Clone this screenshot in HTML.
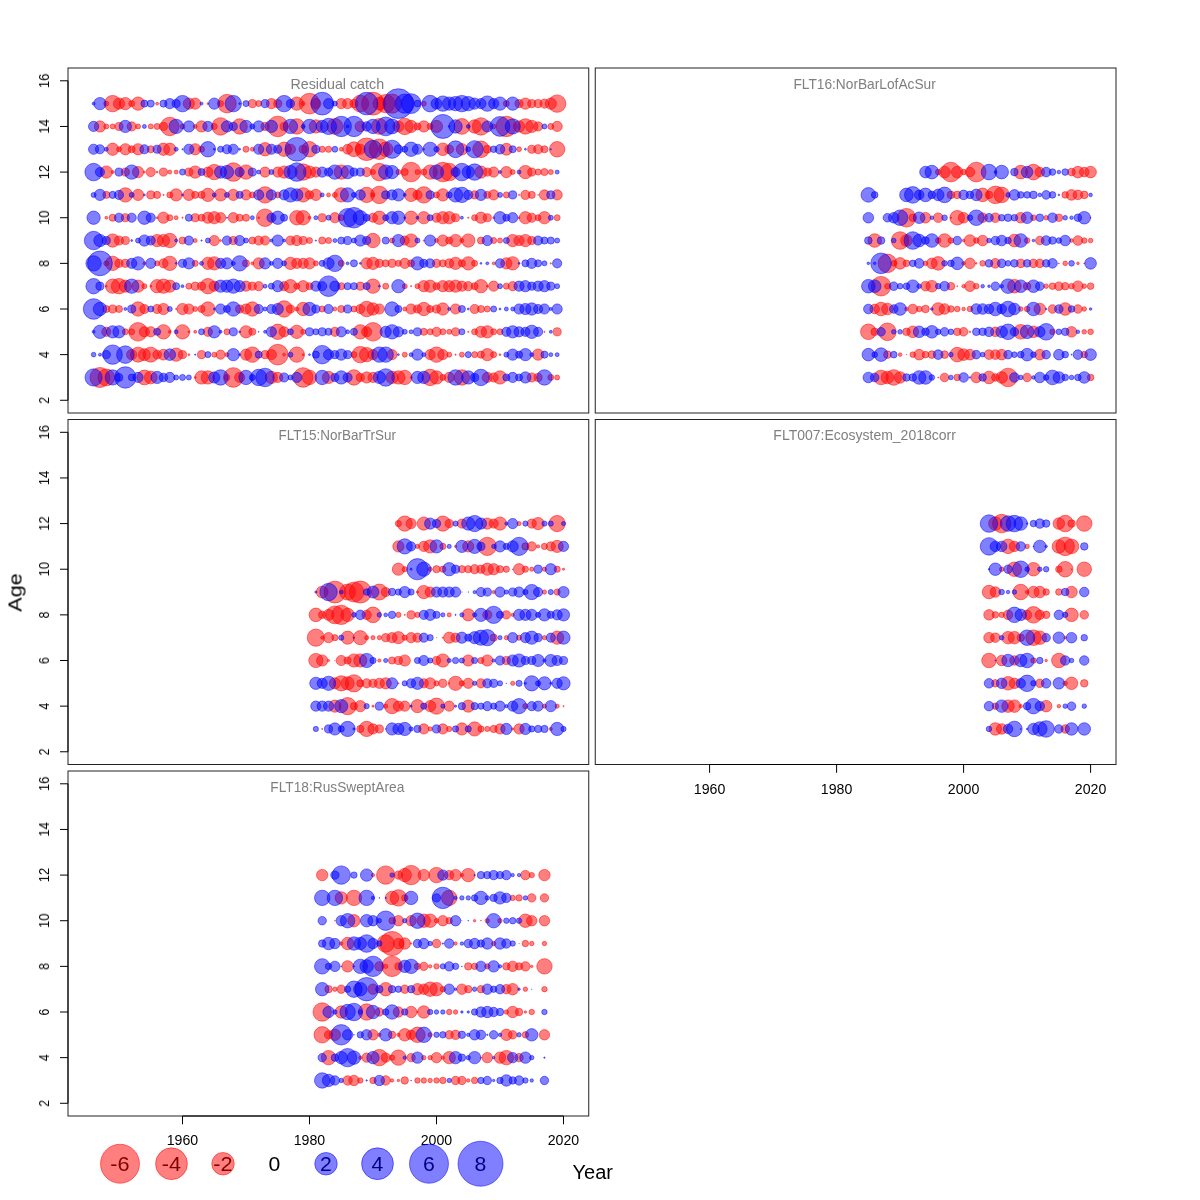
<!DOCTYPE html>
<html><head><meta charset="utf-8"><title>Residuals</title>
<style>
html,body{margin:0;padding:0;background:#fff;}
svg{display:block;}
text{font-family:"Liberation Sans",sans-serif;}
text{filter:url(#idf)}
.r{fill:rgba(255,0,0,.5);stroke:rgba(255,0,0,.5);stroke-width:1}
.b{fill:rgba(0,0,255,.5);stroke:rgba(0,0,255,.5);stroke-width:1}
.ax{stroke:#000;stroke-width:1;fill:none}
.bx{stroke:#222;stroke-width:1;fill:none}
.tl{font-size:14.6px;fill:#000}
.tt{font-size:14.1px;fill:#7f7f7f}
</style></head><body>
<svg width="1200" height="1200" viewBox="0 0 1200 1200">
<defs><filter id="idf" x="-5%" y="-50%" width="110%" height="200%"><feOffset dx="0" dy="0"/></filter></defs>
<rect width="1200" height="1200" fill="#fff"/>
<g>
<g class="r"><circle cx="106.3" cy="103.62" r="2.5"/><circle cx="112.65" cy="103.62" r="8.22"/><circle cx="119" cy="103.62" r="5.62"/><circle cx="125.35" cy="103.62" r="6.14"/><circle cx="131.7" cy="103.62" r="3.02"/><circle cx="138.05" cy="103.62" r="6.66"/><circle cx="157.1" cy="103.62" r="1.46"/><circle cx="188.85" cy="103.62" r="5.62"/><circle cx="195.2" cy="103.62" r="5.62"/><circle cx="207.9" cy="103.62" r="0.94"/><circle cx="220.6" cy="103.62" r="3.02"/><circle cx="226.95" cy="103.62" r="9.26"/><circle cx="252.35" cy="103.62" r="4.06"/><circle cx="258.7" cy="103.62" r="3.02"/><circle cx="271.4" cy="103.62" r="5.1"/><circle cx="277.75" cy="103.62" r="4.06"/><circle cx="296.8" cy="103.62" r="6.66"/><circle cx="303.15" cy="103.62" r="1.98"/><circle cx="309.5" cy="103.62" r="10.3"/><circle cx="315.85" cy="103.62" r="5.1"/><circle cx="341.25" cy="103.62" r="5.1"/><circle cx="347.6" cy="103.62" r="5.1"/><circle cx="353.95" cy="103.62" r="4.06"/><circle cx="360.3" cy="103.62" r="8.4"/><circle cx="373" cy="103.62" r="11.4"/><circle cx="379.35" cy="103.62" r="6.4"/><circle cx="385.7" cy="103.62" r="9.2"/><circle cx="392.05" cy="103.62" r="9.6"/><circle cx="423.8" cy="103.62" r="2.5"/><circle cx="506.35" cy="103.62" r="3.02"/><circle cx="519.05" cy="103.62" r="4.06"/><circle cx="525.4" cy="103.62" r="5.62"/><circle cx="531.75" cy="103.62" r="4.06"/><circle cx="538.1" cy="103.62" r="4.06"/><circle cx="544.45" cy="103.62" r="4.58"/><circle cx="550.8" cy="103.62" r="5.62"/><circle cx="557.15" cy="103.62" r="8.74"/><circle cx="99.95" cy="126.44" r="5.62"/><circle cx="106.3" cy="126.44" r="2.5"/><circle cx="112.65" cy="126.44" r="2.5"/><circle cx="119" cy="126.44" r="4.06"/><circle cx="131.7" cy="126.44" r="4.58"/><circle cx="138.05" cy="126.44" r="2.5"/><circle cx="150.75" cy="126.44" r="2.5"/><circle cx="157.1" cy="126.44" r="3.02"/><circle cx="163.45" cy="126.44" r="4.06"/><circle cx="169.8" cy="126.44" r="9.26"/><circle cx="182.5" cy="126.44" r="2.5"/><circle cx="195.2" cy="126.44" r="1.98"/><circle cx="201.55" cy="126.44" r="5.62"/><circle cx="214.25" cy="126.44" r="3.02"/><circle cx="220.6" cy="126.44" r="8.74"/><circle cx="239.65" cy="126.44" r="7.7"/><circle cx="265.05" cy="126.44" r="4.06"/><circle cx="277.75" cy="126.44" r="10.3"/><circle cx="284.1" cy="126.44" r="4.06"/><circle cx="296.8" cy="126.44" r="7.7"/><circle cx="315.85" cy="126.44" r="6.66"/><circle cx="334.9" cy="126.44" r="7.9"/><circle cx="360.3" cy="126.44" r="5.3"/><circle cx="379.35" cy="126.44" r="7.9"/><circle cx="398.4" cy="126.44" r="5.5"/><circle cx="404.75" cy="126.44" r="8.22"/><circle cx="411.1" cy="126.44" r="6.14"/><circle cx="417.45" cy="126.44" r="3.54"/><circle cx="423.8" cy="126.44" r="5.62"/><circle cx="430.15" cy="126.44" r="3.02"/><circle cx="436.5" cy="126.44" r="6.1"/><circle cx="461.9" cy="126.44" r="7.9"/><circle cx="474.6" cy="126.44" r="6.7"/><circle cx="480.95" cy="126.44" r="8.7"/><circle cx="493.65" cy="126.44" r="2.4"/><circle cx="506.35" cy="126.44" r="10.2"/><circle cx="519.05" cy="126.44" r="5.7"/><circle cx="525.4" cy="126.44" r="7.7"/><circle cx="531.75" cy="126.44" r="6.14"/><circle cx="538.1" cy="126.44" r="4.58"/><circle cx="550.8" cy="126.44" r="3.02"/><circle cx="557.15" cy="126.44" r="5.1"/><circle cx="112.65" cy="149.26" r="6.14"/><circle cx="119" cy="149.26" r="2.5"/><circle cx="125.35" cy="149.26" r="5.62"/><circle cx="131.7" cy="149.26" r="3.54"/><circle cx="138.05" cy="149.26" r="5.62"/><circle cx="150.75" cy="149.26" r="3.54"/><circle cx="163.45" cy="149.26" r="6.14"/><circle cx="169.8" cy="149.26" r="6.14"/><circle cx="195.2" cy="149.26" r="5.62"/><circle cx="201.55" cy="149.26" r="3.02"/><circle cx="246" cy="149.26" r="3.02"/><circle cx="252.35" cy="149.26" r="1.98"/><circle cx="265.05" cy="149.26" r="6.66"/><circle cx="284.1" cy="149.26" r="7.18"/><circle cx="290.45" cy="149.26" r="5.1"/><circle cx="303.15" cy="149.26" r="4.06"/><circle cx="309.5" cy="149.26" r="7.7"/><circle cx="322.2" cy="149.26" r="3.1"/><circle cx="328.55" cy="149.26" r="3.1"/><circle cx="341.25" cy="149.26" r="1.9"/><circle cx="347.6" cy="149.26" r="4.9"/><circle cx="353.95" cy="149.26" r="7.4"/><circle cx="360.3" cy="149.26" r="5.1"/><circle cx="366.65" cy="149.26" r="11.3"/><circle cx="379.35" cy="149.26" r="10.2"/><circle cx="385.7" cy="149.26" r="7.2"/><circle cx="423.8" cy="149.26" r="0.94"/><circle cx="442.85" cy="149.26" r="6.3"/><circle cx="449.2" cy="149.26" r="4.4"/><circle cx="461.9" cy="149.26" r="5.7"/><circle cx="480.95" cy="149.26" r="8.3"/><circle cx="487.3" cy="149.26" r="3.9"/><circle cx="506.35" cy="149.26" r="5.9"/><circle cx="519.05" cy="149.26" r="2.4"/><circle cx="531.75" cy="149.26" r="4.06"/><circle cx="538.1" cy="149.26" r="4.58"/><circle cx="544.45" cy="149.26" r="3.54"/><circle cx="557.15" cy="149.26" r="7.7"/><circle cx="106.3" cy="172.08" r="6.14"/><circle cx="112.65" cy="172.08" r="1.46"/><circle cx="125.35" cy="172.08" r="4.06"/><circle cx="138.05" cy="172.08" r="5.62"/><circle cx="144.4" cy="172.08" r="0.94"/><circle cx="150.75" cy="172.08" r="4.58"/><circle cx="157.1" cy="172.08" r="0.94"/><circle cx="163.45" cy="172.08" r="4.06"/><circle cx="169.8" cy="172.08" r="1.98"/><circle cx="176.15" cy="172.08" r="1.98"/><circle cx="188.85" cy="172.08" r="4.06"/><circle cx="195.2" cy="172.08" r="6.14"/><circle cx="207.9" cy="172.08" r="5.1"/><circle cx="214.25" cy="172.08" r="7.7"/><circle cx="233.3" cy="172.08" r="9.26"/><circle cx="246" cy="172.08" r="7.18"/><circle cx="265.05" cy="172.08" r="5.1"/><circle cx="277.75" cy="172.08" r="5.1"/><circle cx="284.1" cy="172.08" r="6.14"/><circle cx="303.15" cy="172.08" r="8.22"/><circle cx="309.5" cy="172.08" r="6.14"/><circle cx="315.85" cy="172.08" r="5.1"/><circle cx="341.25" cy="172.08" r="7.18"/><circle cx="366.65" cy="172.08" r="4.58"/><circle cx="373" cy="172.08" r="2.5"/><circle cx="379.35" cy="172.08" r="8.74"/><circle cx="398.4" cy="172.08" r="2.5"/><circle cx="404.75" cy="172.08" r="3.54"/><circle cx="411.1" cy="172.08" r="9.78"/><circle cx="417.45" cy="172.08" r="2.5"/><circle cx="423.8" cy="172.08" r="3.02"/><circle cx="430.15" cy="172.08" r="7.18"/><circle cx="442.85" cy="172.08" r="9.78"/><circle cx="449.2" cy="172.08" r="8.74"/><circle cx="480.95" cy="172.08" r="6.14"/><circle cx="487.3" cy="172.08" r="4.06"/><circle cx="493.65" cy="172.08" r="5.1"/><circle cx="506.35" cy="172.08" r="5.62"/><circle cx="512.7" cy="172.08" r="2.5"/><circle cx="525.4" cy="172.08" r="6.66"/><circle cx="531.75" cy="172.08" r="4.06"/><circle cx="538.1" cy="172.08" r="3.02"/><circle cx="544.45" cy="172.08" r="3.54"/><circle cx="550.8" cy="172.08" r="2.5"/><circle cx="106.3" cy="194.9" r="3.54"/><circle cx="125.35" cy="194.9" r="7.18"/><circle cx="138.05" cy="194.9" r="5.62"/><circle cx="150.75" cy="194.9" r="4.06"/><circle cx="157.1" cy="194.9" r="3.54"/><circle cx="163.45" cy="194.9" r="0.63"/><circle cx="169.8" cy="194.9" r="3.02"/><circle cx="176.15" cy="194.9" r="6.14"/><circle cx="188.85" cy="194.9" r="5.62"/><circle cx="195.2" cy="194.9" r="3.54"/><circle cx="201.55" cy="194.9" r="3.54"/><circle cx="207.9" cy="194.9" r="6.66"/><circle cx="220.6" cy="194.9" r="6.14"/><circle cx="233.3" cy="194.9" r="5.62"/><circle cx="246" cy="194.9" r="5.1"/><circle cx="252.35" cy="194.9" r="3.02"/><circle cx="265.05" cy="194.9" r="8.22"/><circle cx="277.75" cy="194.9" r="3.02"/><circle cx="303.15" cy="194.9" r="7.18"/><circle cx="309.5" cy="194.9" r="4.06"/><circle cx="315.85" cy="194.9" r="5.62"/><circle cx="328.55" cy="194.9" r="1.98"/><circle cx="334.9" cy="194.9" r="2.5"/><circle cx="341.25" cy="194.9" r="7.18"/><circle cx="366.65" cy="194.9" r="7.7"/><circle cx="373" cy="194.9" r="1.98"/><circle cx="379.35" cy="194.9" r="8.74"/><circle cx="411.1" cy="194.9" r="6.66"/><circle cx="417.45" cy="194.9" r="4.58"/><circle cx="423.8" cy="194.9" r="8.22"/><circle cx="436.5" cy="194.9" r="3.02"/><circle cx="442.85" cy="194.9" r="6.14"/><circle cx="474.6" cy="194.9" r="4.06"/><circle cx="487.3" cy="194.9" r="3.54"/><circle cx="493.65" cy="194.9" r="5.1"/><circle cx="506.35" cy="194.9" r="3.02"/><circle cx="519.05" cy="194.9" r="0.63"/><circle cx="525.4" cy="194.9" r="4.58"/><circle cx="531.75" cy="194.9" r="3.54"/><circle cx="538.1" cy="194.9" r="0.42"/><circle cx="544.45" cy="194.9" r="5.1"/><circle cx="557.15" cy="194.9" r="5.1"/><circle cx="106.3" cy="217.72" r="1.46"/><circle cx="112.65" cy="217.72" r="3.54"/><circle cx="125.35" cy="217.72" r="4.06"/><circle cx="157.1" cy="217.72" r="0.94"/><circle cx="163.45" cy="217.72" r="5.62"/><circle cx="169.8" cy="217.72" r="3.02"/><circle cx="176.15" cy="217.72" r="1.98"/><circle cx="182.5" cy="217.72" r="0.63"/><circle cx="195.2" cy="217.72" r="4.06"/><circle cx="201.55" cy="217.72" r="3.54"/><circle cx="207.9" cy="217.72" r="5.62"/><circle cx="214.25" cy="217.72" r="6.14"/><circle cx="220.6" cy="217.72" r="5.1"/><circle cx="233.3" cy="217.72" r="5.1"/><circle cx="239.65" cy="217.72" r="3.54"/><circle cx="246" cy="217.72" r="3.54"/><circle cx="258.7" cy="217.72" r="0.94"/><circle cx="265.05" cy="217.72" r="8.74"/><circle cx="296.8" cy="217.72" r="7.18"/><circle cx="303.15" cy="217.72" r="7.18"/><circle cx="309.5" cy="217.72" r="1.46"/><circle cx="322.2" cy="217.72" r="4.06"/><circle cx="334.9" cy="217.72" r="5.1"/><circle cx="341.25" cy="217.72" r="3.02"/><circle cx="373" cy="217.72" r="4.58"/><circle cx="379.35" cy="217.72" r="6.66"/><circle cx="411.1" cy="217.72" r="6.66"/><circle cx="423.8" cy="217.72" r="6.14"/><circle cx="436.5" cy="217.72" r="4.58"/><circle cx="442.85" cy="217.72" r="6.14"/><circle cx="449.2" cy="217.72" r="6.14"/><circle cx="455.55" cy="217.72" r="4.06"/><circle cx="468.25" cy="217.72" r="0.63"/><circle cx="474.6" cy="217.72" r="3.02"/><circle cx="480.95" cy="217.72" r="5.62"/><circle cx="487.3" cy="217.72" r="4.06"/><circle cx="493.65" cy="217.72" r="0.94"/><circle cx="519.05" cy="217.72" r="0.94"/><circle cx="525.4" cy="217.72" r="6.14"/><circle cx="531.75" cy="217.72" r="4.58"/><circle cx="538.1" cy="217.72" r="3.02"/><circle cx="544.45" cy="217.72" r="6.14"/><circle cx="557.15" cy="217.72" r="3.02"/><circle cx="112.65" cy="240.54" r="6.66"/><circle cx="119" cy="240.54" r="4.58"/><circle cx="125.35" cy="240.54" r="4.06"/><circle cx="157.1" cy="240.54" r="6.14"/><circle cx="163.45" cy="240.54" r="6.14"/><circle cx="169.8" cy="240.54" r="7.18"/><circle cx="182.5" cy="240.54" r="3.54"/><circle cx="195.2" cy="240.54" r="1.98"/><circle cx="214.25" cy="240.54" r="5.1"/><circle cx="220.6" cy="240.54" r="0.94"/><circle cx="233.3" cy="240.54" r="4.06"/><circle cx="252.35" cy="240.54" r="3.54"/><circle cx="258.7" cy="240.54" r="4.58"/><circle cx="265.05" cy="240.54" r="4.58"/><circle cx="290.45" cy="240.54" r="4.58"/><circle cx="296.8" cy="240.54" r="5.1"/><circle cx="303.15" cy="240.54" r="4.06"/><circle cx="309.5" cy="240.54" r="3.02"/><circle cx="322.2" cy="240.54" r="3.54"/><circle cx="328.55" cy="240.54" r="3.02"/><circle cx="373" cy="240.54" r="7.18"/><circle cx="392.05" cy="240.54" r="2.5"/><circle cx="404.75" cy="240.54" r="4.58"/><circle cx="411.1" cy="240.54" r="6.66"/><circle cx="423.8" cy="240.54" r="0.63"/><circle cx="436.5" cy="240.54" r="1.98"/><circle cx="442.85" cy="240.54" r="5.62"/><circle cx="449.2" cy="240.54" r="3.54"/><circle cx="455.55" cy="240.54" r="6.14"/><circle cx="461.9" cy="240.54" r="1.98"/><circle cx="468.25" cy="240.54" r="6.66"/><circle cx="480.95" cy="240.54" r="3.54"/><circle cx="493.65" cy="240.54" r="3.02"/><circle cx="500" cy="240.54" r="2.5"/><circle cx="512.7" cy="240.54" r="6.14"/><circle cx="519.05" cy="240.54" r="5.1"/><circle cx="525.4" cy="240.54" r="6.14"/><circle cx="531.75" cy="240.54" r="4.06"/><circle cx="106.3" cy="263.36" r="2.5"/><circle cx="112.65" cy="263.36" r="7.18"/><circle cx="119" cy="263.36" r="4.06"/><circle cx="125.35" cy="263.36" r="4.06"/><circle cx="144.4" cy="263.36" r="1.46"/><circle cx="157.1" cy="263.36" r="2.5"/><circle cx="163.45" cy="263.36" r="4.58"/><circle cx="169.8" cy="263.36" r="7.18"/><circle cx="195.2" cy="263.36" r="3.02"/><circle cx="207.9" cy="263.36" r="6.14"/><circle cx="214.25" cy="263.36" r="6.66"/><circle cx="246" cy="263.36" r="3.54"/><circle cx="252.35" cy="263.36" r="1.46"/><circle cx="258.7" cy="263.36" r="5.62"/><circle cx="290.45" cy="263.36" r="6.14"/><circle cx="296.8" cy="263.36" r="5.1"/><circle cx="303.15" cy="263.36" r="5.1"/><circle cx="309.5" cy="263.36" r="5.62"/><circle cx="315.85" cy="263.36" r="2.5"/><circle cx="341.25" cy="263.36" r="3.02"/><circle cx="366.65" cy="263.36" r="5.62"/><circle cx="373" cy="263.36" r="6.14"/><circle cx="379.35" cy="263.36" r="4.06"/><circle cx="385.7" cy="263.36" r="3.54"/><circle cx="392.05" cy="263.36" r="4.06"/><circle cx="398.4" cy="263.36" r="3.02"/><circle cx="404.75" cy="263.36" r="5.1"/><circle cx="411.1" cy="263.36" r="3.54"/><circle cx="436.5" cy="263.36" r="4.06"/><circle cx="442.85" cy="263.36" r="3.54"/><circle cx="449.2" cy="263.36" r="4.58"/><circle cx="455.55" cy="263.36" r="6.14"/><circle cx="461.9" cy="263.36" r="3.54"/><circle cx="468.25" cy="263.36" r="6.66"/><circle cx="474.6" cy="263.36" r="3.02"/><circle cx="493.65" cy="263.36" r="1.46"/><circle cx="506.35" cy="263.36" r="5.62"/><circle cx="512.7" cy="263.36" r="6.66"/><circle cx="550.8" cy="263.36" r="0.63"/><circle cx="106.3" cy="286.18" r="0.94"/><circle cx="112.65" cy="286.18" r="7.18"/><circle cx="119" cy="286.18" r="7.7"/><circle cx="125.35" cy="286.18" r="6.14"/><circle cx="138.05" cy="286.18" r="6.14"/><circle cx="144.4" cy="286.18" r="2.5"/><circle cx="150.75" cy="286.18" r="0.94"/><circle cx="157.1" cy="286.18" r="6.66"/><circle cx="163.45" cy="286.18" r="7.18"/><circle cx="169.8" cy="286.18" r="6.14"/><circle cx="188.85" cy="286.18" r="3.02"/><circle cx="195.2" cy="286.18" r="4.06"/><circle cx="201.55" cy="286.18" r="4.06"/><circle cx="207.9" cy="286.18" r="7.7"/><circle cx="214.25" cy="286.18" r="5.1"/><circle cx="246" cy="286.18" r="5.1"/><circle cx="252.35" cy="286.18" r="4.06"/><circle cx="258.7" cy="286.18" r="4.58"/><circle cx="284.1" cy="286.18" r="4.58"/><circle cx="290.45" cy="286.18" r="6.66"/><circle cx="296.8" cy="286.18" r="3.02"/><circle cx="303.15" cy="286.18" r="5.62"/><circle cx="309.5" cy="286.18" r="3.54"/><circle cx="341.25" cy="286.18" r="3.54"/><circle cx="360.3" cy="286.18" r="4.06"/><circle cx="373" cy="286.18" r="7.18"/><circle cx="385.7" cy="286.18" r="3.02"/><circle cx="404.75" cy="286.18" r="2.5"/><circle cx="411.1" cy="286.18" r="0.63"/><circle cx="417.45" cy="286.18" r="2.5"/><circle cx="423.8" cy="286.18" r="5.62"/><circle cx="430.15" cy="286.18" r="6.14"/><circle cx="436.5" cy="286.18" r="3.54"/><circle cx="442.85" cy="286.18" r="5.62"/><circle cx="449.2" cy="286.18" r="5.62"/><circle cx="455.55" cy="286.18" r="6.14"/><circle cx="461.9" cy="286.18" r="5.1"/><circle cx="468.25" cy="286.18" r="4.58"/><circle cx="474.6" cy="286.18" r="3.54"/><circle cx="480.95" cy="286.18" r="6.66"/><circle cx="487.3" cy="286.18" r="0.94"/><circle cx="493.65" cy="286.18" r="5.1"/><circle cx="506.35" cy="286.18" r="3.02"/><circle cx="512.7" cy="286.18" r="4.58"/><circle cx="106.3" cy="309" r="3.54"/><circle cx="112.65" cy="309" r="4.06"/><circle cx="119" cy="309" r="3.54"/><circle cx="138.05" cy="309" r="7.18"/><circle cx="144.4" cy="309" r="4.58"/><circle cx="157.1" cy="309" r="4.58"/><circle cx="163.45" cy="309" r="5.62"/><circle cx="176.15" cy="309" r="0.63"/><circle cx="182.5" cy="309" r="5.62"/><circle cx="188.85" cy="309" r="5.1"/><circle cx="195.2" cy="309" r="2.5"/><circle cx="201.55" cy="309" r="3.54"/><circle cx="207.9" cy="309" r="7.18"/><circle cx="239.65" cy="309" r="4.06"/><circle cx="246" cy="309" r="5.1"/><circle cx="252.35" cy="309" r="7.18"/><circle cx="284.1" cy="309" r="8.22"/><circle cx="290.45" cy="309" r="4.06"/><circle cx="296.8" cy="309" r="1.98"/><circle cx="303.15" cy="309" r="6.66"/><circle cx="322.2" cy="309" r="3.02"/><circle cx="334.9" cy="309" r="1.98"/><circle cx="341.25" cy="309" r="3.54"/><circle cx="353.95" cy="309" r="3.02"/><circle cx="360.3" cy="309" r="4.58"/><circle cx="366.65" cy="309" r="7.7"/><circle cx="373" cy="309" r="6.14"/><circle cx="379.35" cy="309" r="5.1"/><circle cx="404.75" cy="309" r="1.98"/><circle cx="411.1" cy="309" r="5.1"/><circle cx="417.45" cy="309" r="4.06"/><circle cx="423.8" cy="309" r="6.66"/><circle cx="430.15" cy="309" r="3.54"/><circle cx="436.5" cy="309" r="4.06"/><circle cx="442.85" cy="309" r="6.14"/><circle cx="455.55" cy="309" r="5.1"/><circle cx="474.6" cy="309" r="4.58"/><circle cx="480.95" cy="309" r="3.54"/><circle cx="487.3" cy="309" r="3.02"/><circle cx="106.3" cy="331.82" r="4.58"/><circle cx="125.35" cy="331.82" r="3.02"/><circle cx="131.7" cy="331.82" r="3.02"/><circle cx="138.05" cy="331.82" r="9.26"/><circle cx="144.4" cy="331.82" r="5.1"/><circle cx="150.75" cy="331.82" r="5.1"/><circle cx="163.45" cy="331.82" r="7.18"/><circle cx="169.8" cy="331.82" r="1.46"/><circle cx="182.5" cy="331.82" r="7.18"/><circle cx="188.85" cy="331.82" r="0.94"/><circle cx="195.2" cy="331.82" r="1.46"/><circle cx="207.9" cy="331.82" r="4.58"/><circle cx="226.95" cy="331.82" r="3.02"/><circle cx="246" cy="331.82" r="6.14"/><circle cx="252.35" cy="331.82" r="3.54"/><circle cx="277.75" cy="331.82" r="7.7"/><circle cx="284.1" cy="331.82" r="5.1"/><circle cx="296.8" cy="331.82" r="6.66"/><circle cx="303.15" cy="331.82" r="2.5"/><circle cx="334.9" cy="331.82" r="4.58"/><circle cx="360.3" cy="331.82" r="7.18"/><circle cx="366.65" cy="331.82" r="5.1"/><circle cx="373" cy="331.82" r="9.26"/><circle cx="423.8" cy="331.82" r="3.54"/><circle cx="430.15" cy="331.82" r="3.02"/><circle cx="436.5" cy="331.82" r="4.58"/><circle cx="442.85" cy="331.82" r="3.02"/><circle cx="449.2" cy="331.82" r="2.5"/><circle cx="455.55" cy="331.82" r="4.06"/><circle cx="468.25" cy="331.82" r="0.63"/><circle cx="474.6" cy="331.82" r="3.02"/><circle cx="480.95" cy="331.82" r="5.62"/><circle cx="487.3" cy="331.82" r="6.14"/><circle cx="493.65" cy="331.82" r="3.02"/><circle cx="500" cy="331.82" r="3.02"/><circle cx="544.45" cy="331.82" r="0.63"/><circle cx="557.15" cy="331.82" r="4.06"/><circle cx="131.7" cy="354.64" r="5.2"/><circle cx="138.05" cy="354.64" r="7.5"/><circle cx="144.4" cy="354.64" r="6"/><circle cx="150.75" cy="354.64" r="7.5"/><circle cx="157.1" cy="354.64" r="4.4"/><circle cx="163.45" cy="354.64" r="5.4"/><circle cx="176.15" cy="354.64" r="6.66"/><circle cx="182.5" cy="354.64" r="4.06"/><circle cx="188.85" cy="354.64" r="0.94"/><circle cx="201.55" cy="354.64" r="4.06"/><circle cx="214.25" cy="354.64" r="2.5"/><circle cx="220.6" cy="354.64" r="4.58"/><circle cx="226.95" cy="354.64" r="1.98"/><circle cx="246" cy="354.64" r="5.62"/><circle cx="252.35" cy="354.64" r="7.7"/><circle cx="265.05" cy="354.64" r="4.06"/><circle cx="271.4" cy="354.64" r="5.1"/><circle cx="277.75" cy="354.64" r="10.3"/><circle cx="284.1" cy="354.64" r="1.46"/><circle cx="296.8" cy="354.64" r="7.7"/><circle cx="303.15" cy="354.64" r="0.94"/><circle cx="353.95" cy="354.64" r="3.02"/><circle cx="360.3" cy="354.64" r="8.22"/><circle cx="366.65" cy="354.64" r="7.18"/><circle cx="373" cy="354.64" r="5.1"/><circle cx="392.05" cy="354.64" r="5.1"/><circle cx="404.75" cy="354.64" r="2.5"/><circle cx="430.15" cy="354.64" r="5.1"/><circle cx="436.5" cy="354.64" r="7.7"/><circle cx="442.85" cy="354.64" r="5.1"/><circle cx="449.2" cy="354.64" r="2.5"/><circle cx="455.55" cy="354.64" r="0.63"/><circle cx="461.9" cy="354.64" r="2.5"/><circle cx="474.6" cy="354.64" r="3.02"/><circle cx="480.95" cy="354.64" r="3.54"/><circle cx="487.3" cy="354.64" r="6.14"/><circle cx="493.65" cy="354.64" r="3.02"/><circle cx="500" cy="354.64" r="0.94"/><circle cx="538.1" cy="354.64" r="5.62"/><circle cx="99.95" cy="377.46" r="10"/><circle cx="106.3" cy="377.46" r="8.4"/><circle cx="144.4" cy="377.46" r="7.4"/><circle cx="150.75" cy="377.46" r="6.4"/><circle cx="195.2" cy="377.46" r="0.94"/><circle cx="201.55" cy="377.46" r="6.66"/><circle cx="207.9" cy="377.46" r="6.66"/><circle cx="226.95" cy="377.46" r="3.02"/><circle cx="233.3" cy="377.46" r="9.78"/><circle cx="239.65" cy="377.46" r="5.1"/><circle cx="271.4" cy="377.46" r="6.14"/><circle cx="277.75" cy="377.46" r="5.1"/><circle cx="303.15" cy="377.46" r="9.78"/><circle cx="309.5" cy="377.46" r="7.18"/><circle cx="328.55" cy="377.46" r="6.14"/><circle cx="353.95" cy="377.46" r="7.7"/><circle cx="360.3" cy="377.46" r="4.06"/><circle cx="366.65" cy="377.46" r="5.62"/><circle cx="373" cy="377.46" r="5.1"/><circle cx="392.05" cy="377.46" r="6.14"/><circle cx="398.4" cy="377.46" r="6.66"/><circle cx="404.75" cy="377.46" r="7.18"/><circle cx="411.1" cy="377.46" r="0.94"/><circle cx="430.15" cy="377.46" r="8.22"/><circle cx="436.5" cy="377.46" r="6.66"/><circle cx="442.85" cy="377.46" r="3.02"/><circle cx="449.2" cy="377.46" r="5.1"/><circle cx="461.9" cy="377.46" r="7.7"/><circle cx="487.3" cy="377.46" r="5.1"/><circle cx="493.65" cy="377.46" r="4.58"/><circle cx="500" cy="377.46" r="6.66"/><circle cx="531.75" cy="377.46" r="4.58"/><circle cx="538.1" cy="377.46" r="4.06"/><circle cx="550.8" cy="377.46" r="3.02"/><circle cx="557.15" cy="377.46" r="2.5"/></g>
<g class="b"><circle cx="93.6" cy="103.62" r="1.46"/><circle cx="99.95" cy="103.62" r="6.14"/><circle cx="144.4" cy="103.62" r="3.54"/><circle cx="150.75" cy="103.62" r="3.54"/><circle cx="163.45" cy="103.62" r="3.54"/><circle cx="169.8" cy="103.62" r="5.1"/><circle cx="176.15" cy="103.62" r="4.06"/><circle cx="182.5" cy="103.62" r="8.22"/><circle cx="201.55" cy="103.62" r="1.46"/><circle cx="214.25" cy="103.62" r="5.62"/><circle cx="233.3" cy="103.62" r="8.22"/><circle cx="239.65" cy="103.62" r="0.94"/><circle cx="246" cy="103.62" r="3.02"/><circle cx="265.05" cy="103.62" r="4.06"/><circle cx="284.1" cy="103.62" r="8.22"/><circle cx="290.45" cy="103.62" r="4.06"/><circle cx="322.2" cy="103.62" r="11.34"/><circle cx="328.55" cy="103.62" r="5.1"/><circle cx="334.9" cy="103.62" r="2.5"/><circle cx="366.65" cy="103.62" r="11.3"/><circle cx="398.4" cy="103.62" r="14.9"/><circle cx="404.75" cy="103.62" r="9.6"/><circle cx="411.1" cy="103.62" r="9.9"/><circle cx="417.45" cy="103.62" r="3.4"/><circle cx="430.15" cy="103.62" r="8.3"/><circle cx="436.5" cy="103.62" r="5.4"/><circle cx="442.85" cy="103.62" r="7.7"/><circle cx="449.2" cy="103.62" r="6.66"/><circle cx="455.55" cy="103.62" r="7.18"/><circle cx="461.9" cy="103.62" r="8.22"/><circle cx="468.25" cy="103.62" r="7.18"/><circle cx="474.6" cy="103.62" r="5.62"/><circle cx="480.95" cy="103.62" r="5.1"/><circle cx="487.3" cy="103.62" r="7.7"/><circle cx="493.65" cy="103.62" r="5.1"/><circle cx="500" cy="103.62" r="6.66"/><circle cx="512.7" cy="103.62" r="6.66"/><circle cx="93.6" cy="126.44" r="5.1"/><circle cx="125.35" cy="126.44" r="6.14"/><circle cx="144.4" cy="126.44" r="1.98"/><circle cx="176.15" cy="126.44" r="7.18"/><circle cx="188.85" cy="126.44" r="5.62"/><circle cx="207.9" cy="126.44" r="5.1"/><circle cx="226.95" cy="126.44" r="5.62"/><circle cx="233.3" cy="126.44" r="4.06"/><circle cx="246" cy="126.44" r="6.14"/><circle cx="252.35" cy="126.44" r="2.5"/><circle cx="258.7" cy="126.44" r="5.62"/><circle cx="271.4" cy="126.44" r="6.14"/><circle cx="290.45" cy="126.44" r="7.18"/><circle cx="303.15" cy="126.44" r="1.98"/><circle cx="309.5" cy="126.44" r="7.18"/><circle cx="322.2" cy="126.44" r="6.14"/><circle cx="328.55" cy="126.44" r="8.1"/><circle cx="341.25" cy="126.44" r="10.2"/><circle cx="347.6" cy="126.44" r="1.4"/><circle cx="353.95" cy="126.44" r="10.2"/><circle cx="366.65" cy="126.44" r="4.7"/><circle cx="373" cy="126.44" r="7.2"/><circle cx="385.7" cy="126.44" r="9.4"/><circle cx="392.05" cy="126.44" r="7.4"/><circle cx="442.85" cy="126.44" r="12"/><circle cx="449.2" cy="126.44" r="0.9"/><circle cx="455.55" cy="126.44" r="6.7"/><circle cx="468.25" cy="126.44" r="1.9"/><circle cx="487.3" cy="126.44" r="5.5"/><circle cx="500" cy="126.44" r="9.9"/><circle cx="512.7" cy="126.44" r="7.6"/><circle cx="544.45" cy="126.44" r="2.5"/><circle cx="93.6" cy="149.26" r="5.1"/><circle cx="99.95" cy="149.26" r="4.58"/><circle cx="106.3" cy="149.26" r="1.98"/><circle cx="144.4" cy="149.26" r="4.58"/><circle cx="157.1" cy="149.26" r="4.06"/><circle cx="176.15" cy="149.26" r="1.98"/><circle cx="182.5" cy="149.26" r="0.63"/><circle cx="188.85" cy="149.26" r="5.1"/><circle cx="207.9" cy="149.26" r="7.7"/><circle cx="214.25" cy="149.26" r="0.94"/><circle cx="220.6" cy="149.26" r="3.02"/><circle cx="226.95" cy="149.26" r="4.58"/><circle cx="233.3" cy="149.26" r="5.1"/><circle cx="239.65" cy="149.26" r="0.94"/><circle cx="258.7" cy="149.26" r="5.1"/><circle cx="271.4" cy="149.26" r="5.1"/><circle cx="277.75" cy="149.26" r="4.06"/><circle cx="296.8" cy="149.26" r="11.86"/><circle cx="315.85" cy="149.26" r="4.06"/><circle cx="334.9" cy="149.26" r="2.9"/><circle cx="373" cy="149.26" r="8.9"/><circle cx="392.05" cy="149.26" r="9.1"/><circle cx="398.4" cy="149.26" r="4.4"/><circle cx="404.75" cy="149.26" r="3.02"/><circle cx="411.1" cy="149.26" r="7.18"/><circle cx="417.45" cy="149.26" r="5.1"/><circle cx="430.15" cy="149.26" r="7.1"/><circle cx="436.5" cy="149.26" r="2.7"/><circle cx="455.55" cy="149.26" r="8.4"/><circle cx="468.25" cy="149.26" r="2.4"/><circle cx="474.6" cy="149.26" r="8.6"/><circle cx="493.65" cy="149.26" r="3.3"/><circle cx="500" cy="149.26" r="4.8"/><circle cx="512.7" cy="149.26" r="3.5"/><circle cx="525.4" cy="149.26" r="0.94"/><circle cx="550.8" cy="149.26" r="0.63"/><circle cx="93.6" cy="172.08" r="8.74"/><circle cx="99.95" cy="172.08" r="4.58"/><circle cx="119" cy="172.08" r="4.06"/><circle cx="131.7" cy="172.08" r="7.18"/><circle cx="182.5" cy="172.08" r="3.02"/><circle cx="201.55" cy="172.08" r="3.54"/><circle cx="220.6" cy="172.08" r="6.14"/><circle cx="226.95" cy="172.08" r="6.66"/><circle cx="239.65" cy="172.08" r="4.58"/><circle cx="252.35" cy="172.08" r="4.06"/><circle cx="258.7" cy="172.08" r="1.98"/><circle cx="271.4" cy="172.08" r="2.5"/><circle cx="290.45" cy="172.08" r="6.66"/><circle cx="296.8" cy="172.08" r="9.26"/><circle cx="322.2" cy="172.08" r="5.1"/><circle cx="328.55" cy="172.08" r="4.06"/><circle cx="334.9" cy="172.08" r="7.18"/><circle cx="347.6" cy="172.08" r="6.66"/><circle cx="353.95" cy="172.08" r="4.06"/><circle cx="360.3" cy="172.08" r="4.06"/><circle cx="385.7" cy="172.08" r="7.18"/><circle cx="392.05" cy="172.08" r="6.66"/><circle cx="436.5" cy="172.08" r="7.18"/><circle cx="455.55" cy="172.08" r="4.58"/><circle cx="461.9" cy="172.08" r="8.74"/><circle cx="468.25" cy="172.08" r="6.14"/><circle cx="474.6" cy="172.08" r="8.22"/><circle cx="500" cy="172.08" r="1.46"/><circle cx="519.05" cy="172.08" r="1.98"/><circle cx="557.15" cy="172.08" r="1.98"/><circle cx="93.6" cy="194.9" r="2.5"/><circle cx="99.95" cy="194.9" r="5.62"/><circle cx="112.65" cy="194.9" r="3.54"/><circle cx="119" cy="194.9" r="4.58"/><circle cx="131.7" cy="194.9" r="2.5"/><circle cx="144.4" cy="194.9" r="0.94"/><circle cx="182.5" cy="194.9" r="0.94"/><circle cx="214.25" cy="194.9" r="1.98"/><circle cx="226.95" cy="194.9" r="2.5"/><circle cx="239.65" cy="194.9" r="3.54"/><circle cx="258.7" cy="194.9" r="5.1"/><circle cx="271.4" cy="194.9" r="5.1"/><circle cx="284.1" cy="194.9" r="5.1"/><circle cx="290.45" cy="194.9" r="7.18"/><circle cx="296.8" cy="194.9" r="6.14"/><circle cx="322.2" cy="194.9" r="1.98"/><circle cx="347.6" cy="194.9" r="7.18"/><circle cx="353.95" cy="194.9" r="2.5"/><circle cx="360.3" cy="194.9" r="5.1"/><circle cx="385.7" cy="194.9" r="4.06"/><circle cx="392.05" cy="194.9" r="5.1"/><circle cx="398.4" cy="194.9" r="6.14"/><circle cx="404.75" cy="194.9" r="1.46"/><circle cx="430.15" cy="194.9" r="4.06"/><circle cx="449.2" cy="194.9" r="3.02"/><circle cx="455.55" cy="194.9" r="7.18"/><circle cx="461.9" cy="194.9" r="7.7"/><circle cx="468.25" cy="194.9" r="4.58"/><circle cx="480.95" cy="194.9" r="5.62"/><circle cx="500" cy="194.9" r="2.5"/><circle cx="512.7" cy="194.9" r="4.06"/><circle cx="550.8" cy="194.9" r="4.06"/><circle cx="93.6" cy="217.72" r="6.66"/><circle cx="119" cy="217.72" r="4.58"/><circle cx="131.7" cy="217.72" r="4.58"/><circle cx="144.4" cy="217.72" r="6.66"/><circle cx="150.75" cy="217.72" r="4.58"/><circle cx="188.85" cy="217.72" r="3.54"/><circle cx="226.95" cy="217.72" r="0.63"/><circle cx="252.35" cy="217.72" r="1.98"/><circle cx="271.4" cy="217.72" r="4.58"/><circle cx="277.75" cy="217.72" r="6.66"/><circle cx="284.1" cy="217.72" r="3.54"/><circle cx="315.85" cy="217.72" r="1.98"/><circle cx="328.55" cy="217.72" r="2.5"/><circle cx="347.6" cy="217.72" r="9.26"/><circle cx="353.95" cy="217.72" r="10.3"/><circle cx="360.3" cy="217.72" r="7.18"/><circle cx="366.65" cy="217.72" r="3.54"/><circle cx="385.7" cy="217.72" r="3.02"/><circle cx="392.05" cy="217.72" r="6.14"/><circle cx="398.4" cy="217.72" r="6.66"/><circle cx="404.75" cy="217.72" r="0.94"/><circle cx="417.45" cy="217.72" r="1.46"/><circle cx="430.15" cy="217.72" r="3.02"/><circle cx="461.9" cy="217.72" r="1.46"/><circle cx="500" cy="217.72" r="6.14"/><circle cx="506.35" cy="217.72" r="3.54"/><circle cx="512.7" cy="217.72" r="5.1"/><circle cx="550.8" cy="217.72" r="2.5"/><circle cx="93.6" cy="240.54" r="9.26"/><circle cx="99.95" cy="240.54" r="6.14"/><circle cx="106.3" cy="240.54" r="4.06"/><circle cx="131.7" cy="240.54" r="0.94"/><circle cx="138.05" cy="240.54" r="2.5"/><circle cx="144.4" cy="240.54" r="5.62"/><circle cx="150.75" cy="240.54" r="4.58"/><circle cx="176.15" cy="240.54" r="1.46"/><circle cx="188.85" cy="240.54" r="4.58"/><circle cx="201.55" cy="240.54" r="0.63"/><circle cx="207.9" cy="240.54" r="2.5"/><circle cx="226.95" cy="240.54" r="4.58"/><circle cx="239.65" cy="240.54" r="5.1"/><circle cx="246" cy="240.54" r="2.5"/><circle cx="271.4" cy="240.54" r="1.46"/><circle cx="277.75" cy="240.54" r="5.62"/><circle cx="284.1" cy="240.54" r="1.46"/><circle cx="315.85" cy="240.54" r="0.63"/><circle cx="334.9" cy="240.54" r="1.98"/><circle cx="341.25" cy="240.54" r="3.54"/><circle cx="347.6" cy="240.54" r="4.06"/><circle cx="353.95" cy="240.54" r="2.5"/><circle cx="360.3" cy="240.54" r="5.62"/><circle cx="366.65" cy="240.54" r="4.06"/><circle cx="385.7" cy="240.54" r="3.54"/><circle cx="398.4" cy="240.54" r="6.14"/><circle cx="417.45" cy="240.54" r="2.5"/><circle cx="430.15" cy="240.54" r="5.62"/><circle cx="487.3" cy="240.54" r="5.1"/><circle cx="506.35" cy="240.54" r="3.02"/><circle cx="538.1" cy="240.54" r="4.58"/><circle cx="544.45" cy="240.54" r="3.54"/><circle cx="550.8" cy="240.54" r="3.54"/><circle cx="557.15" cy="240.54" r="2.5"/><circle cx="93.6" cy="263.36" r="7.7"/><circle cx="99.95" cy="263.36" r="12.38"/><circle cx="131.7" cy="263.36" r="5.1"/><circle cx="138.05" cy="263.36" r="6.66"/><circle cx="150.75" cy="263.36" r="5.1"/><circle cx="176.15" cy="263.36" r="0.94"/><circle cx="182.5" cy="263.36" r="4.06"/><circle cx="188.85" cy="263.36" r="5.62"/><circle cx="201.55" cy="263.36" r="1.98"/><circle cx="220.6" cy="263.36" r="5.1"/><circle cx="226.95" cy="263.36" r="5.62"/><circle cx="233.3" cy="263.36" r="1.98"/><circle cx="239.65" cy="263.36" r="7.7"/><circle cx="265.05" cy="263.36" r="5.62"/><circle cx="271.4" cy="263.36" r="1.98"/><circle cx="277.75" cy="263.36" r="5.1"/><circle cx="284.1" cy="263.36" r="2.5"/><circle cx="322.2" cy="263.36" r="3.02"/><circle cx="328.55" cy="263.36" r="5.62"/><circle cx="334.9" cy="263.36" r="8.22"/><circle cx="347.6" cy="263.36" r="1.46"/><circle cx="353.95" cy="263.36" r="3.54"/><circle cx="360.3" cy="263.36" r="0.94"/><circle cx="417.45" cy="263.36" r="6.66"/><circle cx="423.8" cy="263.36" r="4.06"/><circle cx="430.15" cy="263.36" r="4.58"/><circle cx="480.95" cy="263.36" r="0.94"/><circle cx="487.3" cy="263.36" r="1.46"/><circle cx="500" cy="263.36" r="4.58"/><circle cx="519.05" cy="263.36" r="0.94"/><circle cx="525.4" cy="263.36" r="3.54"/><circle cx="531.75" cy="263.36" r="5.1"/><circle cx="538.1" cy="263.36" r="3.54"/><circle cx="544.45" cy="263.36" r="2.5"/><circle cx="557.15" cy="263.36" r="4.58"/><circle cx="93.6" cy="286.18" r="7.7"/><circle cx="99.95" cy="286.18" r="4.06"/><circle cx="131.7" cy="286.18" r="7.18"/><circle cx="176.15" cy="286.18" r="3.54"/><circle cx="182.5" cy="286.18" r="1.46"/><circle cx="220.6" cy="286.18" r="6.14"/><circle cx="226.95" cy="286.18" r="6.14"/><circle cx="233.3" cy="286.18" r="7.18"/><circle cx="239.65" cy="286.18" r="5.62"/><circle cx="265.05" cy="286.18" r="1.98"/><circle cx="271.4" cy="286.18" r="3.02"/><circle cx="277.75" cy="286.18" r="5.62"/><circle cx="315.85" cy="286.18" r="5.1"/><circle cx="322.2" cy="286.18" r="4.58"/><circle cx="328.55" cy="286.18" r="10.3"/><circle cx="334.9" cy="286.18" r="5.1"/><circle cx="347.6" cy="286.18" r="3.54"/><circle cx="353.95" cy="286.18" r="3.54"/><circle cx="366.65" cy="286.18" r="3.54"/><circle cx="379.35" cy="286.18" r="0.94"/><circle cx="398.4" cy="286.18" r="6.66"/><circle cx="500" cy="286.18" r="2.5"/><circle cx="519.05" cy="286.18" r="5.1"/><circle cx="525.4" cy="286.18" r="5.62"/><circle cx="531.75" cy="286.18" r="4.06"/><circle cx="538.1" cy="286.18" r="5.1"/><circle cx="544.45" cy="286.18" r="5.62"/><circle cx="550.8" cy="286.18" r="4.06"/><circle cx="557.15" cy="286.18" r="2.5"/><circle cx="93.6" cy="309" r="10.3"/><circle cx="99.95" cy="309" r="6.66"/><circle cx="125.35" cy="309" r="1.46"/><circle cx="131.7" cy="309" r="4.06"/><circle cx="150.75" cy="309" r="3.02"/><circle cx="169.8" cy="309" r="2.5"/><circle cx="214.25" cy="309" r="0.94"/><circle cx="220.6" cy="309" r="5.1"/><circle cx="226.95" cy="309" r="3.54"/><circle cx="233.3" cy="309" r="7.18"/><circle cx="258.7" cy="309" r="4.58"/><circle cx="265.05" cy="309" r="1.98"/><circle cx="271.4" cy="309" r="4.58"/><circle cx="277.75" cy="309" r="5.62"/><circle cx="309.5" cy="309" r="6.66"/><circle cx="315.85" cy="309" r="4.06"/><circle cx="328.55" cy="309" r="4.58"/><circle cx="347.6" cy="309" r="4.06"/><circle cx="392.05" cy="309" r="7.18"/><circle cx="398.4" cy="309" r="3.54"/><circle cx="449.2" cy="309" r="1.46"/><circle cx="461.9" cy="309" r="3.54"/><circle cx="468.25" cy="309" r="0.94"/><circle cx="493.65" cy="309" r="3.02"/><circle cx="500" cy="309" r="0.94"/><circle cx="506.35" cy="309" r="1.98"/><circle cx="512.7" cy="309" r="1.98"/><circle cx="519.05" cy="309" r="5.1"/><circle cx="525.4" cy="309" r="5.62"/><circle cx="531.75" cy="309" r="6.14"/><circle cx="538.1" cy="309" r="4.58"/><circle cx="544.45" cy="309" r="5.1"/><circle cx="550.8" cy="309" r="1.46"/><circle cx="557.15" cy="309" r="5.1"/><circle cx="93.6" cy="331.82" r="1.46"/><circle cx="99.95" cy="331.82" r="6.66"/><circle cx="112.65" cy="331.82" r="6.14"/><circle cx="119" cy="331.82" r="6.14"/><circle cx="157.1" cy="331.82" r="3.54"/><circle cx="176.15" cy="331.82" r="1.98"/><circle cx="201.55" cy="331.82" r="3.02"/><circle cx="214.25" cy="331.82" r="6.14"/><circle cx="220.6" cy="331.82" r="1.46"/><circle cx="233.3" cy="331.82" r="4.06"/><circle cx="239.65" cy="331.82" r="0.94"/><circle cx="258.7" cy="331.82" r="0.42"/><circle cx="265.05" cy="331.82" r="1.46"/><circle cx="271.4" cy="331.82" r="5.1"/><circle cx="290.45" cy="331.82" r="3.02"/><circle cx="309.5" cy="331.82" r="4.06"/><circle cx="315.85" cy="331.82" r="3.02"/><circle cx="322.2" cy="331.82" r="4.06"/><circle cx="328.55" cy="331.82" r="3.54"/><circle cx="341.25" cy="331.82" r="5.1"/><circle cx="347.6" cy="331.82" r="1.98"/><circle cx="353.95" cy="331.82" r="3.54"/><circle cx="385.7" cy="331.82" r="5.62"/><circle cx="392.05" cy="331.82" r="7.18"/><circle cx="398.4" cy="331.82" r="5.1"/><circle cx="404.75" cy="331.82" r="2.5"/><circle cx="411.1" cy="331.82" r="1.98"/><circle cx="417.45" cy="331.82" r="4.06"/><circle cx="461.9" cy="331.82" r="3.02"/><circle cx="506.35" cy="331.82" r="4.58"/><circle cx="512.7" cy="331.82" r="6.14"/><circle cx="519.05" cy="331.82" r="5.1"/><circle cx="525.4" cy="331.82" r="4.58"/><circle cx="531.75" cy="331.82" r="6.66"/><circle cx="538.1" cy="331.82" r="4.58"/><circle cx="550.8" cy="331.82" r="1.46"/><circle cx="93.6" cy="354.64" r="2.3"/><circle cx="99.95" cy="354.64" r="1.5"/><circle cx="106.3" cy="354.64" r="4.2"/><circle cx="112.65" cy="354.64" r="9.7"/><circle cx="125.35" cy="354.64" r="8.8"/><circle cx="169.8" cy="354.64" r="5.8"/><circle cx="195.2" cy="354.64" r="0.63"/><circle cx="207.9" cy="354.64" r="3.02"/><circle cx="233.3" cy="354.64" r="6.14"/><circle cx="239.65" cy="354.64" r="0.94"/><circle cx="258.7" cy="354.64" r="3.54"/><circle cx="290.45" cy="354.64" r="2.5"/><circle cx="309.5" cy="354.64" r="0.94"/><circle cx="315.85" cy="354.64" r="3.54"/><circle cx="322.2" cy="354.64" r="9.26"/><circle cx="328.55" cy="354.64" r="5.1"/><circle cx="334.9" cy="354.64" r="4.06"/><circle cx="341.25" cy="354.64" r="5.62"/><circle cx="347.6" cy="354.64" r="4.06"/><circle cx="379.35" cy="354.64" r="7.7"/><circle cx="385.7" cy="354.64" r="7.7"/><circle cx="398.4" cy="354.64" r="0.94"/><circle cx="411.1" cy="354.64" r="1.98"/><circle cx="417.45" cy="354.64" r="5.62"/><circle cx="423.8" cy="354.64" r="1.98"/><circle cx="468.25" cy="354.64" r="3.02"/><circle cx="506.35" cy="354.64" r="2.5"/><circle cx="512.7" cy="354.64" r="5.62"/><circle cx="519.05" cy="354.64" r="3.54"/><circle cx="525.4" cy="354.64" r="6.14"/><circle cx="531.75" cy="354.64" r="1.98"/><circle cx="544.45" cy="354.64" r="3.54"/><circle cx="550.8" cy="354.64" r="1.98"/><circle cx="557.15" cy="354.64" r="1.98"/><circle cx="93.6" cy="377.46" r="8.6"/><circle cx="112.65" cy="377.46" r="7.6"/><circle cx="119" cy="377.46" r="3.9"/><circle cx="125.35" cy="377.46" r="10.7"/><circle cx="131.7" cy="377.46" r="3.4"/><circle cx="138.05" cy="377.46" r="5.1"/><circle cx="157.1" cy="377.46" r="6.1"/><circle cx="163.45" cy="377.46" r="4.3"/><circle cx="169.8" cy="377.46" r="5.1"/><circle cx="176.15" cy="377.46" r="2.5"/><circle cx="182.5" cy="377.46" r="3.02"/><circle cx="188.85" cy="377.46" r="2.5"/><circle cx="214.25" cy="377.46" r="5.62"/><circle cx="220.6" cy="377.46" r="7.7"/><circle cx="246" cy="377.46" r="7.18"/><circle cx="252.35" cy="377.46" r="3.02"/><circle cx="258.7" cy="377.46" r="8.22"/><circle cx="265.05" cy="377.46" r="9.26"/><circle cx="284.1" cy="377.46" r="4.58"/><circle cx="290.45" cy="377.46" r="2.5"/><circle cx="296.8" cy="377.46" r="5.1"/><circle cx="322.2" cy="377.46" r="7.18"/><circle cx="334.9" cy="377.46" r="4.06"/><circle cx="341.25" cy="377.46" r="6.66"/><circle cx="347.6" cy="377.46" r="4.58"/><circle cx="379.35" cy="377.46" r="6.14"/><circle cx="385.7" cy="377.46" r="8.74"/><circle cx="417.45" cy="377.46" r="6.14"/><circle cx="423.8" cy="377.46" r="6.14"/><circle cx="455.55" cy="377.46" r="7.7"/><circle cx="468.25" cy="377.46" r="6.66"/><circle cx="474.6" cy="377.46" r="4.06"/><circle cx="480.95" cy="377.46" r="8.22"/><circle cx="506.35" cy="377.46" r="3.54"/><circle cx="512.7" cy="377.46" r="5.1"/><circle cx="519.05" cy="377.46" r="3.54"/><circle cx="525.4" cy="377.46" r="5.62"/><circle cx="544.45" cy="377.46" r="7.7"/></g>
<rect class="bx" x="68" y="68" width="520.75" height="345"/>
<text class="tt" x="337.3" y="88.7" text-anchor="middle" textLength="93.6" lengthAdjust="spacingAndGlyphs">Residual catch</text>
<line class="ax" x1="68" y1="80.8" x2="68" y2="400.28"/><line class="ax" x1="60" y1="400.28" x2="68" y2="400.28"/><text class="tl" transform="translate(49,400.28) rotate(-90)" text-anchor="middle" textLength="6.8" lengthAdjust="spacingAndGlyphs">2</text>
<line class="ax" x1="60" y1="354.64" x2="68" y2="354.64"/><text class="tl" transform="translate(49,354.64) rotate(-90)" text-anchor="middle" textLength="6.8" lengthAdjust="spacingAndGlyphs">4</text>
<line class="ax" x1="60" y1="309" x2="68" y2="309"/><text class="tl" transform="translate(49,309) rotate(-90)" text-anchor="middle" textLength="6.8" lengthAdjust="spacingAndGlyphs">6</text>
<line class="ax" x1="60" y1="263.36" x2="68" y2="263.36"/><text class="tl" transform="translate(49,263.36) rotate(-90)" text-anchor="middle" textLength="6.8" lengthAdjust="spacingAndGlyphs">8</text>
<line class="ax" x1="60" y1="217.72" x2="68" y2="217.72"/><text class="tl" transform="translate(49,217.72) rotate(-90)" text-anchor="middle" textLength="14.5" lengthAdjust="spacingAndGlyphs">10</text>
<line class="ax" x1="60" y1="172.08" x2="68" y2="172.08"/><text class="tl" transform="translate(49,172.08) rotate(-90)" text-anchor="middle" textLength="14.5" lengthAdjust="spacingAndGlyphs">12</text>
<line class="ax" x1="60" y1="126.44" x2="68" y2="126.44"/><text class="tl" transform="translate(49,126.44) rotate(-90)" text-anchor="middle" textLength="14.5" lengthAdjust="spacingAndGlyphs">14</text>
<line class="ax" x1="60" y1="80.8" x2="68" y2="80.8"/><text class="tl" transform="translate(49,80.8) rotate(-90)" text-anchor="middle" textLength="14.5" lengthAdjust="spacingAndGlyphs">16</text>
</g>
<g>
<g class="r"><circle cx="938.2" cy="172.08" r="2.8"/><circle cx="944.55" cy="172.08" r="5.8"/><circle cx="950.9" cy="172.08" r="9.8"/><circle cx="957.25" cy="172.08" r="5.8"/><circle cx="963.6" cy="172.08" r="2.8"/><circle cx="969.95" cy="172.08" r="4.8"/><circle cx="976.3" cy="172.08" r="9.8"/><circle cx="1020.75" cy="172.08" r="6.8"/><circle cx="1033.45" cy="172.08" r="7.8"/><circle cx="1039.8" cy="172.08" r="4.8"/><circle cx="1071.55" cy="172.08" r="3.8"/><circle cx="1077.9" cy="172.08" r="5.8"/><circle cx="1084.25" cy="172.08" r="4.8"/><circle cx="1090.6" cy="172.08" r="5.8"/><circle cx="950.9" cy="194.9" r="3.8"/><circle cx="957.25" cy="194.9" r="3.8"/><circle cx="982.65" cy="194.9" r="6.8"/><circle cx="989" cy="194.9" r="3.8"/><circle cx="995.35" cy="194.9" r="8.8"/><circle cx="1001.7" cy="194.9" r="7.8"/><circle cx="1065.2" cy="194.9" r="3.3"/><circle cx="1071.55" cy="194.9" r="5.3"/><circle cx="1077.9" cy="194.9" r="4.8"/><circle cx="1084.25" cy="194.9" r="3.8"/><circle cx="906.45" cy="217.72" r="9.3"/><circle cx="912.8" cy="217.72" r="3.8"/><circle cx="925.5" cy="217.72" r="5.3"/><circle cx="938.2" cy="217.72" r="4.8"/><circle cx="950.9" cy="217.72" r="0.8"/><circle cx="957.25" cy="217.72" r="7.3"/><circle cx="963.6" cy="217.72" r="5.3"/><circle cx="982.65" cy="217.72" r="4.8"/><circle cx="995.35" cy="217.72" r="4.8"/><circle cx="1020.75" cy="217.72" r="5.3"/><circle cx="1033.45" cy="217.72" r="2.8"/><circle cx="1046.15" cy="217.72" r="2.3"/><circle cx="1058.85" cy="217.72" r="3.8"/><circle cx="1090.6" cy="217.72" r="0.5"/><circle cx="874.7" cy="240.54" r="6.8"/><circle cx="900.1" cy="240.54" r="8.8"/><circle cx="906.45" cy="240.54" r="5.8"/><circle cx="938.2" cy="240.54" r="2.8"/><circle cx="944.55" cy="240.54" r="6.8"/><circle cx="950.9" cy="240.54" r="2.8"/><circle cx="963.6" cy="240.54" r="1.3"/><circle cx="969.95" cy="240.54" r="5.8"/><circle cx="976.3" cy="240.54" r="2.8"/><circle cx="982.65" cy="240.54" r="5.3"/><circle cx="1014.4" cy="240.54" r="6.3"/><circle cx="1027.1" cy="240.54" r="2.8"/><circle cx="1039.8" cy="240.54" r="4.3"/><circle cx="1071.55" cy="240.54" r="1.8"/><circle cx="1077.9" cy="240.54" r="4.8"/><circle cx="1084.25" cy="240.54" r="2.8"/><circle cx="1090.6" cy="240.54" r="2.3"/><circle cx="887.4" cy="263.36" r="9.3"/><circle cx="893.75" cy="263.36" r="2.8"/><circle cx="900.1" cy="263.36" r="5.8"/><circle cx="906.45" cy="263.36" r="3.3"/><circle cx="925.5" cy="263.36" r="2.3"/><circle cx="931.85" cy="263.36" r="5.3"/><circle cx="938.2" cy="263.36" r="6.8"/><circle cx="963.6" cy="263.36" r="1.8"/><circle cx="969.95" cy="263.36" r="5.3"/><circle cx="976.3" cy="263.36" r="0.8"/><circle cx="982.65" cy="263.36" r="2.8"/><circle cx="995.35" cy="263.36" r="4.8"/><circle cx="1020.75" cy="263.36" r="4.3"/><circle cx="1033.45" cy="263.36" r="4.3"/><circle cx="1039.8" cy="263.36" r="4.3"/><circle cx="1058.85" cy="263.36" r="0.5"/><circle cx="1065.2" cy="263.36" r="2.3"/><circle cx="1077.9" cy="263.36" r="1.3"/><circle cx="1084.25" cy="263.36" r="0.5"/><circle cx="881.05" cy="286.18" r="9.8"/><circle cx="887.4" cy="286.18" r="2.8"/><circle cx="925.5" cy="286.18" r="4.8"/><circle cx="931.85" cy="286.18" r="5.8"/><circle cx="950.9" cy="286.18" r="3.8"/><circle cx="957.25" cy="286.18" r="0.5"/><circle cx="963.6" cy="286.18" r="1.8"/><circle cx="969.95" cy="286.18" r="5.3"/><circle cx="976.3" cy="286.18" r="2.8"/><circle cx="1014.4" cy="286.18" r="6.8"/><circle cx="1027.1" cy="286.18" r="3.8"/><circle cx="1046.15" cy="286.18" r="2.3"/><circle cx="1052.5" cy="286.18" r="3.3"/><circle cx="1058.85" cy="286.18" r="4.3"/><circle cx="1065.2" cy="286.18" r="3.8"/><circle cx="1071.55" cy="286.18" r="2.8"/><circle cx="1077.9" cy="286.18" r="5.3"/><circle cx="1084.25" cy="286.18" r="2.3"/><circle cx="1090.6" cy="286.18" r="3.3"/><circle cx="874.7" cy="309" r="4.8"/><circle cx="881.05" cy="309" r="6.8"/><circle cx="887.4" cy="309" r="5.8"/><circle cx="906.45" cy="309" r="1.8"/><circle cx="912.8" cy="309" r="4.8"/><circle cx="919.15" cy="309" r="2.8"/><circle cx="925.5" cy="309" r="3.8"/><circle cx="938.2" cy="309" r="6.3"/><circle cx="944.55" cy="309" r="5.3"/><circle cx="950.9" cy="309" r="3.3"/><circle cx="957.25" cy="309" r="2.8"/><circle cx="963.6" cy="309" r="1.8"/><circle cx="969.95" cy="309" r="2.8"/><circle cx="1020.75" cy="309" r="2.3"/><circle cx="1027.1" cy="309" r="2.8"/><circle cx="1039.8" cy="309" r="5.8"/><circle cx="1052.5" cy="309" r="4.3"/><circle cx="1065.2" cy="309" r="6.3"/><circle cx="1077.9" cy="309" r="4.3"/><circle cx="1084.25" cy="309" r="2.3"/><circle cx="868.35" cy="331.82" r="7.8"/><circle cx="874.7" cy="331.82" r="3.8"/><circle cx="887.4" cy="331.82" r="8.8"/><circle cx="906.45" cy="331.82" r="3.8"/><circle cx="912.8" cy="331.82" r="5.8"/><circle cx="957.25" cy="331.82" r="3.8"/><circle cx="963.6" cy="331.82" r="4.3"/><circle cx="969.95" cy="331.82" r="0.8"/><circle cx="995.35" cy="331.82" r="4.8"/><circle cx="1020.75" cy="331.82" r="7.3"/><circle cx="1033.45" cy="331.82" r="5.8"/><circle cx="1052.5" cy="331.82" r="2.8"/><circle cx="1071.55" cy="331.82" r="5.3"/><circle cx="1084.25" cy="331.82" r="2.3"/><circle cx="1090.6" cy="331.82" r="2.8"/><circle cx="887.4" cy="354.64" r="3.8"/><circle cx="900.1" cy="354.64" r="1.8"/><circle cx="906.45" cy="354.64" r="0.3"/><circle cx="912.8" cy="354.64" r="2.8"/><circle cx="919.15" cy="354.64" r="5.3"/><circle cx="925.5" cy="354.64" r="3.3"/><circle cx="931.85" cy="354.64" r="3.8"/><circle cx="944.55" cy="354.64" r="3.8"/><circle cx="957.25" cy="354.64" r="7.3"/><circle cx="963.6" cy="354.64" r="5.8"/><circle cx="969.95" cy="354.64" r="5.3"/><circle cx="989" cy="354.64" r="4.8"/><circle cx="995.35" cy="354.64" r="4.8"/><circle cx="1001.7" cy="354.64" r="5.3"/><circle cx="1039.8" cy="354.64" r="5.3"/><circle cx="1084.25" cy="354.64" r="3.3"/><circle cx="881.05" cy="377.46" r="7.3"/><circle cx="887.4" cy="377.46" r="6.3"/><circle cx="893.75" cy="377.46" r="7.8"/><circle cx="900.1" cy="377.46" r="5.8"/><circle cx="938.2" cy="377.46" r="0.5"/><circle cx="944.55" cy="377.46" r="4.3"/><circle cx="957.25" cy="377.46" r="3.3"/><circle cx="976.3" cy="377.46" r="5.3"/><circle cx="989" cy="377.46" r="6.3"/><circle cx="995.35" cy="377.46" r="3.8"/><circle cx="1001.7" cy="377.46" r="5.8"/><circle cx="1008.05" cy="377.46" r="9.3"/><circle cx="1027.1" cy="377.46" r="4.3"/><circle cx="1090.6" cy="377.46" r="3.3"/></g>
<g class="b"><circle cx="925.5" cy="172.08" r="5.8"/><circle cx="931.85" cy="172.08" r="6.8"/><circle cx="989" cy="172.08" r="7.8"/><circle cx="995.35" cy="172.08" r="1.3"/><circle cx="1001.7" cy="172.08" r="6.8"/><circle cx="1014.4" cy="172.08" r="3.8"/><circle cx="1027.1" cy="172.08" r="5.8"/><circle cx="1046.15" cy="172.08" r="4.8"/><circle cx="1052.5" cy="172.08" r="3.3"/><circle cx="1058.85" cy="172.08" r="1.8"/><circle cx="1065.2" cy="172.08" r="3.3"/><circle cx="868.35" cy="194.9" r="7.3"/><circle cx="874.7" cy="194.9" r="3.3"/><circle cx="906.45" cy="194.9" r="6.8"/><circle cx="912.8" cy="194.9" r="8.3"/><circle cx="919.15" cy="194.9" r="4.8"/><circle cx="925.5" cy="194.9" r="6.8"/><circle cx="931.85" cy="194.9" r="3.8"/><circle cx="938.2" cy="194.9" r="5.8"/><circle cx="944.55" cy="194.9" r="7.8"/><circle cx="963.6" cy="194.9" r="4.8"/><circle cx="969.95" cy="194.9" r="3.8"/><circle cx="976.3" cy="194.9" r="5.8"/><circle cx="1008.05" cy="194.9" r="2.3"/><circle cx="1014.4" cy="194.9" r="5.3"/><circle cx="1020.75" cy="194.9" r="3.3"/><circle cx="1027.1" cy="194.9" r="3.3"/><circle cx="1033.45" cy="194.9" r="3.8"/><circle cx="1039.8" cy="194.9" r="1.8"/><circle cx="1046.15" cy="194.9" r="4.3"/><circle cx="1052.5" cy="194.9" r="3.3"/><circle cx="1058.85" cy="194.9" r="0.8"/><circle cx="1090.6" cy="194.9" r="1.8"/><circle cx="868.35" cy="217.72" r="5.3"/><circle cx="887.4" cy="217.72" r="4.3"/><circle cx="893.75" cy="217.72" r="5.3"/><circle cx="900.1" cy="217.72" r="7.8"/><circle cx="919.15" cy="217.72" r="5.8"/><circle cx="931.85" cy="217.72" r="1.8"/><circle cx="944.55" cy="217.72" r="2.8"/><circle cx="969.95" cy="217.72" r="2.8"/><circle cx="976.3" cy="217.72" r="7.8"/><circle cx="989" cy="217.72" r="4.3"/><circle cx="1001.7" cy="217.72" r="3.3"/><circle cx="1008.05" cy="217.72" r="3.8"/><circle cx="1014.4" cy="217.72" r="3.3"/><circle cx="1027.1" cy="217.72" r="5.8"/><circle cx="1039.8" cy="217.72" r="3.8"/><circle cx="1052.5" cy="217.72" r="4.8"/><circle cx="1065.2" cy="217.72" r="2.3"/><circle cx="1071.55" cy="217.72" r="1.8"/><circle cx="1077.9" cy="217.72" r="3.8"/><circle cx="1084.25" cy="217.72" r="6.3"/><circle cx="868.35" cy="240.54" r="3.8"/><circle cx="881.05" cy="240.54" r="3.8"/><circle cx="893.75" cy="240.54" r="2.3"/><circle cx="912.8" cy="240.54" r="8.8"/><circle cx="919.15" cy="240.54" r="6.3"/><circle cx="925.5" cy="240.54" r="3.8"/><circle cx="931.85" cy="240.54" r="6.8"/><circle cx="957.25" cy="240.54" r="4.3"/><circle cx="989" cy="240.54" r="2.3"/><circle cx="995.35" cy="240.54" r="4.3"/><circle cx="1001.7" cy="240.54" r="5.3"/><circle cx="1008.05" cy="240.54" r="3.3"/><circle cx="1020.75" cy="240.54" r="6.8"/><circle cx="1033.45" cy="240.54" r="1.3"/><circle cx="1046.15" cy="240.54" r="4.8"/><circle cx="1052.5" cy="240.54" r="3.8"/><circle cx="1058.85" cy="240.54" r="2.8"/><circle cx="1065.2" cy="240.54" r="5.3"/><circle cx="868.35" cy="263.36" r="1.3"/><circle cx="874.7" cy="263.36" r="1.3"/><circle cx="881.05" cy="263.36" r="10.3"/><circle cx="912.8" cy="263.36" r="3.3"/><circle cx="919.15" cy="263.36" r="4.8"/><circle cx="944.55" cy="263.36" r="2.8"/><circle cx="950.9" cy="263.36" r="3.3"/><circle cx="957.25" cy="263.36" r="6.3"/><circle cx="989" cy="263.36" r="3.8"/><circle cx="1001.7" cy="263.36" r="4.3"/><circle cx="1008.05" cy="263.36" r="2.8"/><circle cx="1014.4" cy="263.36" r="3.8"/><circle cx="1027.1" cy="263.36" r="3.8"/><circle cx="1046.15" cy="263.36" r="3.8"/><circle cx="1052.5" cy="263.36" r="4.8"/><circle cx="1071.55" cy="263.36" r="2.8"/><circle cx="1090.6" cy="263.36" r="5.8"/><circle cx="868.35" cy="286.18" r="6.8"/><circle cx="874.7" cy="286.18" r="6.3"/><circle cx="893.75" cy="286.18" r="4.3"/><circle cx="900.1" cy="286.18" r="2.8"/><circle cx="906.45" cy="286.18" r="3.3"/><circle cx="912.8" cy="286.18" r="6.3"/><circle cx="919.15" cy="286.18" r="2.3"/><circle cx="938.2" cy="286.18" r="2.8"/><circle cx="944.55" cy="286.18" r="4.8"/><circle cx="982.65" cy="286.18" r="1.8"/><circle cx="989" cy="286.18" r="1.3"/><circle cx="995.35" cy="286.18" r="4.3"/><circle cx="1001.7" cy="286.18" r="1.8"/><circle cx="1008.05" cy="286.18" r="7.3"/><circle cx="1020.75" cy="286.18" r="6.3"/><circle cx="1033.45" cy="286.18" r="6.3"/><circle cx="1039.8" cy="286.18" r="4.3"/><circle cx="868.35" cy="309" r="4.8"/><circle cx="893.75" cy="309" r="4.3"/><circle cx="900.1" cy="309" r="6.3"/><circle cx="931.85" cy="309" r="1.3"/><circle cx="976.3" cy="309" r="5.3"/><circle cx="982.65" cy="309" r="5.3"/><circle cx="989" cy="309" r="4.8"/><circle cx="995.35" cy="309" r="6.8"/><circle cx="1001.7" cy="309" r="4.8"/><circle cx="1008.05" cy="309" r="7.8"/><circle cx="1014.4" cy="309" r="5.8"/><circle cx="1033.45" cy="309" r="6.8"/><circle cx="1046.15" cy="309" r="0.8"/><circle cx="1058.85" cy="309" r="4.3"/><circle cx="1071.55" cy="309" r="3.3"/><circle cx="1090.6" cy="309" r="1.3"/><circle cx="881.05" cy="331.82" r="4.3"/><circle cx="893.75" cy="331.82" r="2.3"/><circle cx="900.1" cy="331.82" r="2.3"/><circle cx="919.15" cy="331.82" r="5.8"/><circle cx="925.5" cy="331.82" r="3.8"/><circle cx="931.85" cy="331.82" r="6.3"/><circle cx="938.2" cy="331.82" r="2.8"/><circle cx="944.55" cy="331.82" r="4.3"/><circle cx="950.9" cy="331.82" r="2.8"/><circle cx="976.3" cy="331.82" r="3.8"/><circle cx="982.65" cy="331.82" r="3.8"/><circle cx="989" cy="331.82" r="4.8"/><circle cx="1001.7" cy="331.82" r="5.8"/><circle cx="1008.05" cy="331.82" r="7.8"/><circle cx="1014.4" cy="331.82" r="4.3"/><circle cx="1027.1" cy="331.82" r="6.8"/><circle cx="1039.8" cy="331.82" r="5.3"/><circle cx="1046.15" cy="331.82" r="8.3"/><circle cx="1058.85" cy="331.82" r="2.8"/><circle cx="1065.2" cy="331.82" r="3.8"/><circle cx="1077.9" cy="331.82" r="1.8"/><circle cx="868.35" cy="354.64" r="6.3"/><circle cx="874.7" cy="354.64" r="2.8"/><circle cx="881.05" cy="354.64" r="6.8"/><circle cx="893.75" cy="354.64" r="3.3"/><circle cx="938.2" cy="354.64" r="4.8"/><circle cx="950.9" cy="354.64" r="2.3"/><circle cx="976.3" cy="354.64" r="4.3"/><circle cx="982.65" cy="354.64" r="2.3"/><circle cx="1008.05" cy="354.64" r="4.3"/><circle cx="1014.4" cy="354.64" r="2.8"/><circle cx="1020.75" cy="354.64" r="3.3"/><circle cx="1027.1" cy="354.64" r="6.3"/><circle cx="1033.45" cy="354.64" r="2.8"/><circle cx="1046.15" cy="354.64" r="4.3"/><circle cx="1058.85" cy="354.64" r="5.3"/><circle cx="1065.2" cy="354.64" r="3.3"/><circle cx="1071.55" cy="354.64" r="0.5"/><circle cx="1077.9" cy="354.64" r="4.8"/><circle cx="1090.6" cy="354.64" r="5.8"/><circle cx="868.35" cy="377.46" r="5.3"/><circle cx="874.7" cy="377.46" r="4.3"/><circle cx="906.45" cy="377.46" r="3.8"/><circle cx="912.8" cy="377.46" r="3.8"/><circle cx="919.15" cy="377.46" r="6.8"/><circle cx="925.5" cy="377.46" r="6.8"/><circle cx="931.85" cy="377.46" r="2.8"/><circle cx="950.9" cy="377.46" r="2.3"/><circle cx="963.6" cy="377.46" r="4.8"/><circle cx="969.95" cy="377.46" r="0.8"/><circle cx="982.65" cy="377.46" r="3.8"/><circle cx="1014.4" cy="377.46" r="4.8"/><circle cx="1020.75" cy="377.46" r="2.3"/><circle cx="1033.45" cy="377.46" r="1.8"/><circle cx="1039.8" cy="377.46" r="5.3"/><circle cx="1046.15" cy="377.46" r="2.8"/><circle cx="1052.5" cy="377.46" r="7.3"/><circle cx="1058.85" cy="377.46" r="5.8"/><circle cx="1065.2" cy="377.46" r="3.3"/><circle cx="1071.55" cy="377.46" r="2.3"/><circle cx="1077.9" cy="377.46" r="3.3"/><circle cx="1084.25" cy="377.46" r="5.8"/></g>
<rect class="bx" x="595.25" y="68" width="520.75" height="345"/>
<text class="tt" x="864.6" y="88.7" text-anchor="middle" textLength="142.3" lengthAdjust="spacingAndGlyphs">FLT16:NorBarLofAcSur</text>
</g>
<g>
<g class="r"><circle cx="398.4" cy="523.58" r="3.1"/><circle cx="404.75" cy="523.58" r="7.6"/><circle cx="411.1" cy="523.58" r="5.1"/><circle cx="423.8" cy="523.58" r="6.6"/><circle cx="442.85" cy="523.58" r="7.6"/><circle cx="449.2" cy="523.58" r="4.1"/><circle cx="461.9" cy="523.58" r="4.6"/><circle cx="487.3" cy="523.58" r="5.6"/><circle cx="493.65" cy="523.58" r="4.6"/><circle cx="500" cy="523.58" r="6.6"/><circle cx="519.05" cy="523.58" r="2.1"/><circle cx="531.75" cy="523.58" r="4.6"/><circle cx="538.1" cy="523.58" r="6.1"/><circle cx="557.15" cy="523.58" r="8.1"/><circle cx="398.4" cy="546.4" r="5.6"/><circle cx="417.45" cy="546.4" r="2.1"/><circle cx="423.8" cy="546.4" r="5.1"/><circle cx="430.15" cy="546.4" r="6.6"/><circle cx="442.85" cy="546.4" r="3.1"/><circle cx="455.55" cy="546.4" r="1.1"/><circle cx="468.25" cy="546.4" r="5.6"/><circle cx="487.3" cy="546.4" r="9.1"/><circle cx="525.4" cy="546.4" r="3.6"/><circle cx="531.75" cy="546.4" r="4.6"/><circle cx="538.1" cy="546.4" r="1.6"/><circle cx="544.45" cy="546.4" r="3.1"/><circle cx="550.8" cy="546.4" r="4.6"/><circle cx="557.15" cy="546.4" r="6.1"/><circle cx="398.4" cy="569.22" r="6.1"/><circle cx="404.75" cy="569.22" r="2.6"/><circle cx="430.15" cy="569.22" r="2.1"/><circle cx="436.5" cy="569.22" r="3.6"/><circle cx="442.85" cy="569.22" r="3.1"/><circle cx="461.9" cy="569.22" r="3.6"/><circle cx="468.25" cy="569.22" r="3.6"/><circle cx="474.6" cy="569.22" r="4.6"/><circle cx="480.95" cy="569.22" r="4.1"/><circle cx="487.3" cy="569.22" r="6.1"/><circle cx="493.65" cy="569.22" r="5.6"/><circle cx="500" cy="569.22" r="3.6"/><circle cx="506.35" cy="569.22" r="3.1"/><circle cx="519.05" cy="569.22" r="5.6"/><circle cx="525.4" cy="569.22" r="3.1"/><circle cx="531.75" cy="569.22" r="2.1"/><circle cx="544.45" cy="569.22" r="2.1"/><circle cx="557.15" cy="569.22" r="3.1"/><circle cx="563.5" cy="569.22" r="1.1"/><circle cx="322.2" cy="592.04" r="5.9"/><circle cx="334.9" cy="592.04" r="10.9"/><circle cx="347.6" cy="592.04" r="8"/><circle cx="353.95" cy="592.04" r="9.9"/><circle cx="360.3" cy="592.04" r="11"/><circle cx="379.35" cy="592.04" r="8"/><circle cx="385.7" cy="592.04" r="4.6"/><circle cx="417.45" cy="592.04" r="1.1"/><circle cx="423.8" cy="592.04" r="6.6"/><circle cx="430.15" cy="592.04" r="5.1"/><circle cx="461.9" cy="592.04" r="0.3"/><circle cx="493.65" cy="592.04" r="1.6"/><circle cx="544.45" cy="592.04" r="2.1"/><circle cx="557.15" cy="592.04" r="3.1"/><circle cx="315.85" cy="614.86" r="6.8"/><circle cx="322.2" cy="614.86" r="3.7"/><circle cx="328.55" cy="614.86" r="5.5"/><circle cx="334.9" cy="614.86" r="8.9"/><circle cx="341.25" cy="614.86" r="9.65"/><circle cx="347.6" cy="614.86" r="6.7"/><circle cx="366.65" cy="614.86" r="4.7"/><circle cx="373" cy="614.86" r="7.8"/><circle cx="398.4" cy="614.86" r="2.6"/><circle cx="404.75" cy="614.86" r="0.6"/><circle cx="411.1" cy="614.86" r="4.1"/><circle cx="417.45" cy="614.86" r="2.6"/><circle cx="449.2" cy="614.86" r="2.1"/><circle cx="468.25" cy="614.86" r="6.1"/><circle cx="487.3" cy="614.86" r="4.6"/><circle cx="506.35" cy="614.86" r="4.1"/><circle cx="512.7" cy="614.86" r="1.6"/><circle cx="315.85" cy="637.68" r="8.6"/><circle cx="322.2" cy="637.68" r="1.6"/><circle cx="328.55" cy="637.68" r="5.1"/><circle cx="334.9" cy="637.68" r="3.1"/><circle cx="347.6" cy="637.68" r="6.6"/><circle cx="360.3" cy="637.68" r="7.1"/><circle cx="366.65" cy="637.68" r="2.1"/><circle cx="373" cy="637.68" r="2.1"/><circle cx="379.35" cy="637.68" r="2.1"/><circle cx="385.7" cy="637.68" r="4.1"/><circle cx="392.05" cy="637.68" r="5.1"/><circle cx="398.4" cy="637.68" r="6.1"/><circle cx="404.75" cy="637.68" r="2.6"/><circle cx="411.1" cy="637.68" r="5.1"/><circle cx="417.45" cy="637.68" r="4.6"/><circle cx="436.5" cy="637.68" r="0.2"/><circle cx="442.85" cy="637.68" r="0.6"/><circle cx="449.2" cy="637.68" r="5.6"/><circle cx="455.55" cy="637.68" r="4.6"/><circle cx="493.65" cy="637.68" r="3.6"/><circle cx="506.35" cy="637.68" r="2.1"/><circle cx="519.05" cy="637.68" r="2.6"/><circle cx="544.45" cy="637.68" r="2.1"/><circle cx="557.15" cy="637.68" r="6.6"/><circle cx="315.85" cy="660.5" r="7.1"/><circle cx="322.2" cy="660.5" r="5.6"/><circle cx="328.55" cy="660.5" r="1.1"/><circle cx="334.9" cy="660.5" r="0.2"/><circle cx="341.25" cy="660.5" r="5.1"/><circle cx="347.6" cy="660.5" r="3.6"/><circle cx="353.95" cy="660.5" r="6.6"/><circle cx="360.3" cy="660.5" r="6.6"/><circle cx="379.35" cy="660.5" r="1.6"/><circle cx="392.05" cy="660.5" r="3.6"/><circle cx="398.4" cy="660.5" r="4.1"/><circle cx="404.75" cy="660.5" r="5.6"/><circle cx="436.5" cy="660.5" r="4.1"/><circle cx="442.85" cy="660.5" r="6.6"/><circle cx="468.25" cy="660.5" r="5.6"/><circle cx="480.95" cy="660.5" r="3.1"/><circle cx="487.3" cy="660.5" r="5.6"/><circle cx="506.35" cy="660.5" r="4.1"/><circle cx="334.9" cy="683.32" r="5.6"/><circle cx="341.25" cy="683.32" r="7.6"/><circle cx="347.6" cy="683.32" r="6.6"/><circle cx="353.95" cy="683.32" r="8.6"/><circle cx="360.3" cy="683.32" r="3.6"/><circle cx="366.65" cy="683.32" r="4.6"/><circle cx="373" cy="683.32" r="4.1"/><circle cx="379.35" cy="683.32" r="5.1"/><circle cx="385.7" cy="683.32" r="5.6"/><circle cx="398.4" cy="683.32" r="0.6"/><circle cx="423.8" cy="683.32" r="4.6"/><circle cx="430.15" cy="683.32" r="5.6"/><circle cx="436.5" cy="683.32" r="2.6"/><circle cx="442.85" cy="683.32" r="4.1"/><circle cx="449.2" cy="683.32" r="0.6"/><circle cx="455.55" cy="683.32" r="7.1"/><circle cx="461.9" cy="683.32" r="2.6"/><circle cx="468.25" cy="683.32" r="5.1"/><circle cx="480.95" cy="683.32" r="4.6"/><circle cx="512.7" cy="683.32" r="2.1"/><circle cx="334.9" cy="706.14" r="6.1"/><circle cx="347.6" cy="706.14" r="8.6"/><circle cx="353.95" cy="706.14" r="3.6"/><circle cx="360.3" cy="706.14" r="5.6"/><circle cx="373" cy="706.14" r="1.1"/><circle cx="385.7" cy="706.14" r="2.1"/><circle cx="392.05" cy="706.14" r="7.6"/><circle cx="398.4" cy="706.14" r="5.1"/><circle cx="404.75" cy="706.14" r="5.1"/><circle cx="417.45" cy="706.14" r="6.6"/><circle cx="430.15" cy="706.14" r="5.6"/><circle cx="436.5" cy="706.14" r="8.1"/><circle cx="449.2" cy="706.14" r="5.1"/><circle cx="468.25" cy="706.14" r="6.1"/><circle cx="525.4" cy="706.14" r="2.6"/><circle cx="544.45" cy="706.14" r="2.1"/><circle cx="557.15" cy="706.14" r="2.1"/><circle cx="563.5" cy="706.14" r="0.6"/><circle cx="322.2" cy="728.96" r="0.6"/><circle cx="360.3" cy="728.96" r="3.6"/><circle cx="366.65" cy="728.96" r="7.6"/><circle cx="373" cy="728.96" r="5.1"/><circle cx="379.35" cy="728.96" r="4.1"/><circle cx="423.8" cy="728.96" r="5.1"/><circle cx="430.15" cy="728.96" r="2.1"/><circle cx="442.85" cy="728.96" r="5.1"/><circle cx="449.2" cy="728.96" r="2.6"/><circle cx="461.9" cy="728.96" r="6.1"/><circle cx="474.6" cy="728.96" r="7.1"/><circle cx="480.95" cy="728.96" r="3.1"/><circle cx="487.3" cy="728.96" r="2.6"/><circle cx="493.65" cy="728.96" r="3.6"/><circle cx="500" cy="728.96" r="5.1"/><circle cx="512.7" cy="728.96" r="1.1"/><circle cx="519.05" cy="728.96" r="5.1"/><circle cx="550.8" cy="728.96" r="1.6"/></g>
<g class="b"><circle cx="430.15" cy="523.58" r="5.6"/><circle cx="436.5" cy="523.58" r="4.1"/><circle cx="455.55" cy="523.58" r="2.6"/><circle cx="468.25" cy="523.58" r="6.6"/><circle cx="474.6" cy="523.58" r="8.1"/><circle cx="480.95" cy="523.58" r="5.6"/><circle cx="506.35" cy="523.58" r="1.6"/><circle cx="512.7" cy="523.58" r="5.1"/><circle cx="525.4" cy="523.58" r="2.6"/><circle cx="544.45" cy="523.58" r="2.6"/><circle cx="550.8" cy="523.58" r="2.6"/><circle cx="563.5" cy="523.58" r="2.1"/><circle cx="404.75" cy="546.4" r="7.6"/><circle cx="411.1" cy="546.4" r="4.6"/><circle cx="436.5" cy="546.4" r="6.6"/><circle cx="449.2" cy="546.4" r="2.1"/><circle cx="461.9" cy="546.4" r="6.1"/><circle cx="474.6" cy="546.4" r="7.1"/><circle cx="480.95" cy="546.4" r="4.1"/><circle cx="493.65" cy="546.4" r="2.1"/><circle cx="500" cy="546.4" r="5.6"/><circle cx="506.35" cy="546.4" r="3.1"/><circle cx="512.7" cy="546.4" r="5.6"/><circle cx="519.05" cy="546.4" r="9.1"/><circle cx="563.5" cy="546.4" r="5.1"/><circle cx="411.1" cy="569.22" r="1.1"/><circle cx="417.45" cy="569.22" r="10.6"/><circle cx="423.8" cy="569.22" r="7.1"/><circle cx="449.2" cy="569.22" r="6.6"/><circle cx="455.55" cy="569.22" r="4.1"/><circle cx="512.7" cy="569.22" r="0.3"/><circle cx="538.1" cy="569.22" r="4.1"/><circle cx="550.8" cy="569.22" r="5.6"/><circle cx="315.85" cy="592.04" r="1.1"/><circle cx="328.55" cy="592.04" r="8.7"/><circle cx="341.25" cy="592.04" r="1.9"/><circle cx="366.65" cy="592.04" r="3.3"/><circle cx="373" cy="592.04" r="6"/><circle cx="392.05" cy="592.04" r="3.8"/><circle cx="398.4" cy="592.04" r="3.1"/><circle cx="404.75" cy="592.04" r="5.6"/><circle cx="411.1" cy="592.04" r="3.1"/><circle cx="436.5" cy="592.04" r="5.1"/><circle cx="442.85" cy="592.04" r="5.1"/><circle cx="449.2" cy="592.04" r="5.1"/><circle cx="455.55" cy="592.04" r="5.1"/><circle cx="468.25" cy="592.04" r="0.3"/><circle cx="474.6" cy="592.04" r="1.6"/><circle cx="480.95" cy="592.04" r="4.6"/><circle cx="487.3" cy="592.04" r="4.1"/><circle cx="500" cy="592.04" r="5.1"/><circle cx="506.35" cy="592.04" r="2.1"/><circle cx="512.7" cy="592.04" r="4.1"/><circle cx="519.05" cy="592.04" r="5.1"/><circle cx="525.4" cy="592.04" r="2.6"/><circle cx="531.75" cy="592.04" r="7.6"/><circle cx="538.1" cy="592.04" r="4.6"/><circle cx="550.8" cy="592.04" r="2.6"/><circle cx="563.5" cy="592.04" r="5.6"/><circle cx="353.95" cy="614.86" r="2.4"/><circle cx="360.3" cy="614.86" r="4.8"/><circle cx="379.35" cy="614.86" r="2.3"/><circle cx="385.7" cy="614.86" r="1.9"/><circle cx="392.05" cy="614.86" r="3.7"/><circle cx="423.8" cy="614.86" r="4.6"/><circle cx="430.15" cy="614.86" r="5.6"/><circle cx="436.5" cy="614.86" r="3.6"/><circle cx="442.85" cy="614.86" r="2.1"/><circle cx="455.55" cy="614.86" r="0.6"/><circle cx="461.9" cy="614.86" r="2.1"/><circle cx="474.6" cy="614.86" r="2.1"/><circle cx="480.95" cy="614.86" r="6.6"/><circle cx="493.65" cy="614.86" r="8.6"/><circle cx="500" cy="614.86" r="3.6"/><circle cx="519.05" cy="614.86" r="5.6"/><circle cx="525.4" cy="614.86" r="5.6"/><circle cx="531.75" cy="614.86" r="5.6"/><circle cx="538.1" cy="614.86" r="2.6"/><circle cx="544.45" cy="614.86" r="6.1"/><circle cx="550.8" cy="614.86" r="3.6"/><circle cx="557.15" cy="614.86" r="5.1"/><circle cx="563.5" cy="614.86" r="6.1"/><circle cx="341.25" cy="637.68" r="2.6"/><circle cx="353.95" cy="637.68" r="0.6"/><circle cx="423.8" cy="637.68" r="4.6"/><circle cx="430.15" cy="637.68" r="3.1"/><circle cx="461.9" cy="637.68" r="5.6"/><circle cx="468.25" cy="637.68" r="3.6"/><circle cx="474.6" cy="637.68" r="6.1"/><circle cx="480.95" cy="637.68" r="7.6"/><circle cx="487.3" cy="637.68" r="8.1"/><circle cx="500" cy="637.68" r="2.1"/><circle cx="512.7" cy="637.68" r="5.1"/><circle cx="525.4" cy="637.68" r="5.1"/><circle cx="531.75" cy="637.68" r="6.6"/><circle cx="538.1" cy="637.68" r="4.1"/><circle cx="550.8" cy="637.68" r="4.6"/><circle cx="563.5" cy="637.68" r="6.6"/><circle cx="366.65" cy="660.5" r="7.1"/><circle cx="373" cy="660.5" r="3.1"/><circle cx="385.7" cy="660.5" r="2.1"/><circle cx="417.45" cy="660.5" r="3.1"/><circle cx="423.8" cy="660.5" r="5.1"/><circle cx="430.15" cy="660.5" r="2.6"/><circle cx="449.2" cy="660.5" r="2.1"/><circle cx="455.55" cy="660.5" r="3.1"/><circle cx="461.9" cy="660.5" r="2.6"/><circle cx="474.6" cy="660.5" r="3.1"/><circle cx="493.65" cy="660.5" r="1.6"/><circle cx="500" cy="660.5" r="4.6"/><circle cx="512.7" cy="660.5" r="5.6"/><circle cx="519.05" cy="660.5" r="6.6"/><circle cx="525.4" cy="660.5" r="4.1"/><circle cx="531.75" cy="660.5" r="4.1"/><circle cx="538.1" cy="660.5" r="6.1"/><circle cx="544.45" cy="660.5" r="1.6"/><circle cx="550.8" cy="660.5" r="6.1"/><circle cx="557.15" cy="660.5" r="5.1"/><circle cx="563.5" cy="660.5" r="4.1"/><circle cx="315.85" cy="683.32" r="6.1"/><circle cx="322.2" cy="683.32" r="5.1"/><circle cx="328.55" cy="683.32" r="7.1"/><circle cx="392.05" cy="683.32" r="5.6"/><circle cx="404.75" cy="683.32" r="2.6"/><circle cx="411.1" cy="683.32" r="4.6"/><circle cx="417.45" cy="683.32" r="6.1"/><circle cx="474.6" cy="683.32" r="2.1"/><circle cx="487.3" cy="683.32" r="4.6"/><circle cx="493.65" cy="683.32" r="4.1"/><circle cx="500" cy="683.32" r="2.6"/><circle cx="506.35" cy="683.32" r="0.3"/><circle cx="519.05" cy="683.32" r="3.1"/><circle cx="525.4" cy="683.32" r="1.1"/><circle cx="531.75" cy="683.32" r="7.6"/><circle cx="538.1" cy="683.32" r="2.6"/><circle cx="544.45" cy="683.32" r="6.6"/><circle cx="550.8" cy="683.32" r="1.1"/><circle cx="557.15" cy="683.32" r="5.1"/><circle cx="563.5" cy="683.32" r="6.6"/><circle cx="315.85" cy="706.14" r="5.1"/><circle cx="322.2" cy="706.14" r="5.1"/><circle cx="328.55" cy="706.14" r="5.1"/><circle cx="341.25" cy="706.14" r="6.6"/><circle cx="366.65" cy="706.14" r="2.6"/><circle cx="379.35" cy="706.14" r="4.1"/><circle cx="411.1" cy="706.14" r="1.1"/><circle cx="423.8" cy="706.14" r="3.1"/><circle cx="442.85" cy="706.14" r="2.1"/><circle cx="455.55" cy="706.14" r="1.1"/><circle cx="461.9" cy="706.14" r="3.6"/><circle cx="474.6" cy="706.14" r="3.6"/><circle cx="480.95" cy="706.14" r="3.1"/><circle cx="487.3" cy="706.14" r="4.6"/><circle cx="493.65" cy="706.14" r="3.1"/><circle cx="500" cy="706.14" r="5.1"/><circle cx="506.35" cy="706.14" r="1.6"/><circle cx="512.7" cy="706.14" r="5.1"/><circle cx="519.05" cy="706.14" r="7.6"/><circle cx="531.75" cy="706.14" r="4.6"/><circle cx="538.1" cy="706.14" r="5.1"/><circle cx="550.8" cy="706.14" r="5.6"/><circle cx="315.85" cy="728.96" r="2.6"/><circle cx="328.55" cy="728.96" r="4.1"/><circle cx="334.9" cy="728.96" r="6.1"/><circle cx="341.25" cy="728.96" r="3.1"/><circle cx="347.6" cy="728.96" r="7.6"/><circle cx="353.95" cy="728.96" r="1.1"/><circle cx="385.7" cy="728.96" r="0.3"/><circle cx="392.05" cy="728.96" r="6.1"/><circle cx="398.4" cy="728.96" r="5.6"/><circle cx="404.75" cy="728.96" r="6.6"/><circle cx="411.1" cy="728.96" r="2.1"/><circle cx="417.45" cy="728.96" r="3.6"/><circle cx="436.5" cy="728.96" r="4.1"/><circle cx="455.55" cy="728.96" r="3.1"/><circle cx="468.25" cy="728.96" r="3.1"/><circle cx="506.35" cy="728.96" r="5.6"/><circle cx="525.4" cy="728.96" r="5.6"/><circle cx="531.75" cy="728.96" r="3.1"/><circle cx="538.1" cy="728.96" r="3.6"/><circle cx="544.45" cy="728.96" r="3.6"/><circle cx="557.15" cy="728.96" r="6.6"/><circle cx="563.5" cy="728.96" r="2.6"/></g>
<rect class="bx" x="68" y="419.5" width="520.75" height="345"/>
<text class="tt" x="337.3" y="440.2" text-anchor="middle" textLength="117.5" lengthAdjust="spacingAndGlyphs">FLT15:NorBarTrSur</text>
<line class="ax" x1="68" y1="432.3" x2="68" y2="751.78"/><line class="ax" x1="60" y1="751.78" x2="68" y2="751.78"/><text class="tl" transform="translate(49,751.78) rotate(-90)" text-anchor="middle" textLength="6.8" lengthAdjust="spacingAndGlyphs">2</text>
<line class="ax" x1="60" y1="706.14" x2="68" y2="706.14"/><text class="tl" transform="translate(49,706.14) rotate(-90)" text-anchor="middle" textLength="6.8" lengthAdjust="spacingAndGlyphs">4</text>
<line class="ax" x1="60" y1="660.5" x2="68" y2="660.5"/><text class="tl" transform="translate(49,660.5) rotate(-90)" text-anchor="middle" textLength="6.8" lengthAdjust="spacingAndGlyphs">6</text>
<line class="ax" x1="60" y1="614.86" x2="68" y2="614.86"/><text class="tl" transform="translate(49,614.86) rotate(-90)" text-anchor="middle" textLength="6.8" lengthAdjust="spacingAndGlyphs">8</text>
<line class="ax" x1="60" y1="569.22" x2="68" y2="569.22"/><text class="tl" transform="translate(49,569.22) rotate(-90)" text-anchor="middle" textLength="14.5" lengthAdjust="spacingAndGlyphs">10</text>
<line class="ax" x1="60" y1="523.58" x2="68" y2="523.58"/><text class="tl" transform="translate(49,523.58) rotate(-90)" text-anchor="middle" textLength="14.5" lengthAdjust="spacingAndGlyphs">12</text>
<line class="ax" x1="60" y1="477.94" x2="68" y2="477.94"/><text class="tl" transform="translate(49,477.94) rotate(-90)" text-anchor="middle" textLength="14.5" lengthAdjust="spacingAndGlyphs">14</text>
<line class="ax" x1="60" y1="432.3" x2="68" y2="432.3"/><text class="tl" transform="translate(49,432.3) rotate(-90)" text-anchor="middle" textLength="14.5" lengthAdjust="spacingAndGlyphs">16</text>
</g>
<g>
<g class="r"><circle cx="995.35" cy="523.58" r="6.75"/><circle cx="1001.7" cy="523.58" r="9.25"/><circle cx="1058.85" cy="523.58" r="5.75"/><circle cx="1065.2" cy="523.58" r="8.25"/><circle cx="1071.55" cy="523.58" r="3.75"/><circle cx="1084.25" cy="523.58" r="7.75"/><circle cx="1008.05" cy="546.4" r="7.25"/><circle cx="1014.4" cy="546.4" r="5.25"/><circle cx="1027.1" cy="546.4" r="2.25"/><circle cx="1058.85" cy="546.4" r="6.75"/><circle cx="1065.2" cy="546.4" r="9.25"/><circle cx="1071.55" cy="546.4" r="7.25"/><circle cx="1001.7" cy="569.22" r="2.25"/><circle cx="1014.4" cy="569.22" r="7.25"/><circle cx="1033.45" cy="569.22" r="6.75"/><circle cx="1058.85" cy="569.22" r="3.25"/><circle cx="1065.2" cy="569.22" r="7.75"/><circle cx="1071.55" cy="569.22" r="0.45"/><circle cx="1084.25" cy="569.22" r="7.25"/><circle cx="989" cy="592.04" r="6.75"/><circle cx="995.35" cy="592.04" r="5.25"/><circle cx="1020.75" cy="592.04" r="7.75"/><circle cx="1027.1" cy="592.04" r="1.75"/><circle cx="1033.45" cy="592.04" r="5.75"/><circle cx="1039.8" cy="592.04" r="5.75"/><circle cx="1046.15" cy="592.04" r="3.25"/><circle cx="1058.85" cy="592.04" r="3.25"/><circle cx="1071.55" cy="592.04" r="5.75"/><circle cx="989" cy="614.86" r="5.25"/><circle cx="995.35" cy="614.86" r="3.25"/><circle cx="1001.7" cy="614.86" r="2.75"/><circle cx="1008.05" cy="614.86" r="4.75"/><circle cx="1027.1" cy="614.86" r="4.75"/><circle cx="1033.45" cy="614.86" r="8.25"/><circle cx="1039.8" cy="614.86" r="4.75"/><circle cx="1046.15" cy="614.86" r="3.75"/><circle cx="1071.55" cy="614.86" r="6.75"/><circle cx="1084.25" cy="614.86" r="4.25"/><circle cx="989" cy="637.68" r="5.25"/><circle cx="995.35" cy="637.68" r="4.75"/><circle cx="1008.05" cy="637.68" r="6.25"/><circle cx="1014.4" cy="637.68" r="6.25"/><circle cx="1020.75" cy="637.68" r="3.75"/><circle cx="1033.45" cy="637.68" r="7.75"/><circle cx="1039.8" cy="637.68" r="6.75"/><circle cx="1065.2" cy="637.68" r="1.25"/><circle cx="989" cy="660.5" r="7.25"/><circle cx="1001.7" cy="660.5" r="5.25"/><circle cx="1014.4" cy="660.5" r="4.75"/><circle cx="1033.45" cy="660.5" r="2.75"/><circle cx="1046.15" cy="660.5" r="1.25"/><circle cx="1058.85" cy="660.5" r="7.25"/><circle cx="995.35" cy="683.32" r="3.75"/><circle cx="1008.05" cy="683.32" r="6.75"/><circle cx="1014.4" cy="683.32" r="5.25"/><circle cx="1039.8" cy="683.32" r="4.25"/><circle cx="1065.2" cy="683.32" r="2.25"/><circle cx="1071.55" cy="683.32" r="6.25"/><circle cx="1084.25" cy="683.32" r="3.75"/><circle cx="995.35" cy="706.14" r="3.25"/><circle cx="1008.05" cy="706.14" r="6.25"/><circle cx="1014.4" cy="706.14" r="6.25"/><circle cx="1020.75" cy="706.14" r="1.75"/><circle cx="1046.15" cy="706.14" r="5.75"/><circle cx="1058.85" cy="706.14" r="1.75"/><circle cx="995.35" cy="728.96" r="6.25"/><circle cx="1001.7" cy="728.96" r="5.25"/><circle cx="1065.2" cy="728.96" r="4.25"/></g>
<g class="b"><circle cx="989" cy="523.58" r="8.75"/><circle cx="1008.05" cy="523.58" r="7.75"/><circle cx="1014.4" cy="523.58" r="8.25"/><circle cx="1020.75" cy="523.58" r="6.75"/><circle cx="1027.1" cy="523.58" r="0.75"/><circle cx="1033.45" cy="523.58" r="3.25"/><circle cx="1039.8" cy="523.58" r="4.75"/><circle cx="1046.15" cy="523.58" r="3.75"/><circle cx="989" cy="546.4" r="8.75"/><circle cx="995.35" cy="546.4" r="5.25"/><circle cx="1001.7" cy="546.4" r="5.25"/><circle cx="1020.75" cy="546.4" r="4.75"/><circle cx="1033.45" cy="546.4" r="0.45"/><circle cx="1039.8" cy="546.4" r="6.25"/><circle cx="1046.15" cy="546.4" r="1.25"/><circle cx="1084.25" cy="546.4" r="3.75"/><circle cx="989" cy="569.22" r="0.75"/><circle cx="995.35" cy="569.22" r="6.25"/><circle cx="1008.05" cy="569.22" r="4.25"/><circle cx="1020.75" cy="569.22" r="8.25"/><circle cx="1027.1" cy="569.22" r="2.25"/><circle cx="1039.8" cy="569.22" r="2.25"/><circle cx="1046.15" cy="569.22" r="2.75"/><circle cx="1001.7" cy="592.04" r="2.75"/><circle cx="1008.05" cy="592.04" r="1.75"/><circle cx="1014.4" cy="592.04" r="2.25"/><circle cx="1065.2" cy="592.04" r="3.75"/><circle cx="1084.25" cy="592.04" r="4.75"/><circle cx="1014.4" cy="614.86" r="7.75"/><circle cx="1020.75" cy="614.86" r="5.75"/><circle cx="1058.85" cy="614.86" r="4.75"/><circle cx="1065.2" cy="614.86" r="2.75"/><circle cx="1001.7" cy="637.68" r="2.25"/><circle cx="1027.1" cy="637.68" r="7.75"/><circle cx="1046.15" cy="637.68" r="4.25"/><circle cx="1058.85" cy="637.68" r="5.75"/><circle cx="1071.55" cy="637.68" r="5.25"/><circle cx="1084.25" cy="637.68" r="3.25"/><circle cx="995.35" cy="660.5" r="0.45"/><circle cx="1008.05" cy="660.5" r="6.25"/><circle cx="1020.75" cy="660.5" r="6.25"/><circle cx="1027.1" cy="660.5" r="7.25"/><circle cx="1039.8" cy="660.5" r="3.25"/><circle cx="1065.2" cy="660.5" r="4.75"/><circle cx="1071.55" cy="660.5" r="2.25"/><circle cx="1084.25" cy="660.5" r="4.75"/><circle cx="989" cy="683.32" r="4.75"/><circle cx="1001.7" cy="683.32" r="5.25"/><circle cx="1020.75" cy="683.32" r="4.75"/><circle cx="1027.1" cy="683.32" r="8.25"/><circle cx="1033.45" cy="683.32" r="2.75"/><circle cx="1046.15" cy="683.32" r="4.75"/><circle cx="1058.85" cy="683.32" r="5.75"/><circle cx="989" cy="706.14" r="4.75"/><circle cx="1001.7" cy="706.14" r="6.25"/><circle cx="1027.1" cy="706.14" r="3.75"/><circle cx="1033.45" cy="706.14" r="7.75"/><circle cx="1039.8" cy="706.14" r="4.75"/><circle cx="1065.2" cy="706.14" r="2.25"/><circle cx="1071.55" cy="706.14" r="4.25"/><circle cx="1084.25" cy="706.14" r="2.25"/><circle cx="989" cy="728.96" r="2.75"/><circle cx="1008.05" cy="728.96" r="4.75"/><circle cx="1014.4" cy="728.96" r="7.75"/><circle cx="1020.75" cy="728.96" r="0.45"/><circle cx="1027.1" cy="728.96" r="0.75"/><circle cx="1033.45" cy="728.96" r="5.75"/><circle cx="1039.8" cy="728.96" r="7.25"/><circle cx="1046.15" cy="728.96" r="8.25"/><circle cx="1058.85" cy="728.96" r="4.25"/><circle cx="1071.55" cy="728.96" r="6.25"/><circle cx="1084.25" cy="728.96" r="6.25"/></g>
<rect class="bx" x="595.25" y="419.5" width="520.75" height="345"/>
<text class="tt" x="864.6" y="440.2" text-anchor="middle" textLength="182.5" lengthAdjust="spacingAndGlyphs">FLT007:Ecosystem_2018corr</text>
<line class="ax" x1="709.6" y1="764.5" x2="1090.6" y2="764.5"/><line class="ax" x1="709.6" y1="764.5" x2="709.6" y2="772.8"/><text class="tl" x="709.6" y="793.8" text-anchor="middle" textLength="31.5" lengthAdjust="spacingAndGlyphs">1960</text>
<line class="ax" x1="836.6" y1="764.5" x2="836.6" y2="772.8"/><text class="tl" x="836.6" y="793.8" text-anchor="middle" textLength="31.5" lengthAdjust="spacingAndGlyphs">1980</text>
<line class="ax" x1="963.6" y1="764.5" x2="963.6" y2="772.8"/><text class="tl" x="963.6" y="793.8" text-anchor="middle" textLength="31.5" lengthAdjust="spacingAndGlyphs">2000</text>
<line class="ax" x1="1090.6" y1="764.5" x2="1090.6" y2="772.8"/><text class="tl" x="1090.6" y="793.8" text-anchor="middle" textLength="31.5" lengthAdjust="spacingAndGlyphs">2020</text>
</g>
<g>
<g class="r"><circle cx="322.2" cy="875.08" r="5.7"/><circle cx="373" cy="875.08" r="1.7"/><circle cx="385.7" cy="875.08" r="9.2"/><circle cx="398.4" cy="875.08" r="4.2"/><circle cx="404.75" cy="875.08" r="6.7"/><circle cx="411.1" cy="875.08" r="9.7"/><circle cx="423.8" cy="875.08" r="5.7"/><circle cx="436.5" cy="875.08" r="7.7"/><circle cx="449.2" cy="875.08" r="4.7"/><circle cx="455.55" cy="875.08" r="5.7"/><circle cx="461.9" cy="875.08" r="1.7"/><circle cx="468.25" cy="875.08" r="6.7"/><circle cx="525.4" cy="875.08" r="4.7"/><circle cx="531.75" cy="875.08" r="2.7"/><circle cx="544.45" cy="875.08" r="5.7"/><circle cx="341.25" cy="897.9" r="6.2"/><circle cx="353.95" cy="897.9" r="7.7"/><circle cx="392.05" cy="897.9" r="6.7"/><circle cx="398.4" cy="897.9" r="8.2"/><circle cx="404.75" cy="897.9" r="3.2"/><circle cx="449.2" cy="897.9" r="7.7"/><circle cx="512.7" cy="897.9" r="2.7"/><circle cx="519.05" cy="897.9" r="3.2"/><circle cx="531.75" cy="897.9" r="4.2"/><circle cx="544.45" cy="897.9" r="4.2"/><circle cx="334.9" cy="920.72" r="0.4"/><circle cx="353.95" cy="920.72" r="6.2"/><circle cx="392.05" cy="920.72" r="3.2"/><circle cx="398.4" cy="920.72" r="5.2"/><circle cx="411.1" cy="920.72" r="5.2"/><circle cx="423.8" cy="920.72" r="6.7"/><circle cx="430.15" cy="920.72" r="6.7"/><circle cx="436.5" cy="920.72" r="2.2"/><circle cx="442.85" cy="920.72" r="5.2"/><circle cx="449.2" cy="920.72" r="3.2"/><circle cx="461.9" cy="920.72" r="0.2"/><circle cx="474.6" cy="920.72" r="1.2"/><circle cx="480.95" cy="920.72" r="0.4"/><circle cx="487.3" cy="920.72" r="2.2"/><circle cx="500" cy="920.72" r="2.2"/><circle cx="525.4" cy="920.72" r="6.7"/><circle cx="531.75" cy="920.72" r="5.2"/><circle cx="544.45" cy="920.72" r="5.2"/><circle cx="341.25" cy="943.54" r="1.7"/><circle cx="347.6" cy="943.54" r="6.2"/><circle cx="385.7" cy="943.54" r="8.7"/><circle cx="392.05" cy="943.54" r="12.1"/><circle cx="398.4" cy="943.54" r="5.2"/><circle cx="404.75" cy="943.54" r="5.7"/><circle cx="411.1" cy="943.54" r="0.7"/><circle cx="436.5" cy="943.54" r="4.2"/><circle cx="455.55" cy="943.54" r="1.7"/><circle cx="493.65" cy="943.54" r="2.2"/><circle cx="519.05" cy="943.54" r="0.2"/><circle cx="525.4" cy="943.54" r="3.2"/><circle cx="531.75" cy="943.54" r="2.2"/><circle cx="544.45" cy="943.54" r="2.2"/><circle cx="347.6" cy="966.36" r="5.7"/><circle cx="379.35" cy="966.36" r="4.7"/><circle cx="385.7" cy="966.36" r="2.2"/><circle cx="392.05" cy="966.36" r="10.2"/><circle cx="398.4" cy="966.36" r="3.7"/><circle cx="417.45" cy="966.36" r="3.2"/><circle cx="423.8" cy="966.36" r="4.2"/><circle cx="430.15" cy="966.36" r="1.7"/><circle cx="436.5" cy="966.36" r="2.7"/><circle cx="468.25" cy="966.36" r="3.7"/><circle cx="474.6" cy="966.36" r="3.2"/><circle cx="487.3" cy="966.36" r="2.7"/><circle cx="506.35" cy="966.36" r="3.7"/><circle cx="512.7" cy="966.36" r="5.2"/><circle cx="519.05" cy="966.36" r="3.7"/><circle cx="525.4" cy="966.36" r="4.7"/><circle cx="531.75" cy="966.36" r="1.2"/><circle cx="544.45" cy="966.36" r="7.7"/><circle cx="328.55" cy="989.18" r="3.7"/><circle cx="334.9" cy="989.18" r="2.2"/><circle cx="341.25" cy="989.18" r="4.2"/><circle cx="373" cy="989.18" r="5.2"/><circle cx="385.7" cy="989.18" r="6.7"/><circle cx="404.75" cy="989.18" r="4.2"/><circle cx="417.45" cy="989.18" r="5.7"/><circle cx="423.8" cy="989.18" r="5.2"/><circle cx="430.15" cy="989.18" r="7.2"/><circle cx="436.5" cy="989.18" r="6.7"/><circle cx="442.85" cy="989.18" r="2.7"/><circle cx="461.9" cy="989.18" r="5.2"/><circle cx="468.25" cy="989.18" r="3.7"/><circle cx="480.95" cy="989.18" r="3.7"/><circle cx="506.35" cy="989.18" r="4.7"/><circle cx="512.7" cy="989.18" r="5.7"/><circle cx="525.4" cy="989.18" r="2.2"/><circle cx="544.45" cy="989.18" r="2.7"/><circle cx="322.2" cy="1012" r="9.2"/><circle cx="341.25" cy="1012" r="6.2"/><circle cx="366.65" cy="1012" r="8.2"/><circle cx="379.35" cy="1012" r="4.2"/><circle cx="398.4" cy="1012" r="5.2"/><circle cx="411.1" cy="1012" r="5.7"/><circle cx="417.45" cy="1012" r="0.7"/><circle cx="423.8" cy="1012" r="6.2"/><circle cx="449.2" cy="1012" r="2.7"/><circle cx="455.55" cy="1012" r="2.2"/><circle cx="506.35" cy="1012" r="2.2"/><circle cx="512.7" cy="1012" r="5.7"/><circle cx="519.05" cy="1012" r="3.7"/><circle cx="525.4" cy="1012" r="1.2"/><circle cx="531.75" cy="1012" r="2.7"/><circle cx="322.2" cy="1034.82" r="8.2"/><circle cx="328.55" cy="1034.82" r="4.2"/><circle cx="334.9" cy="1034.82" r="5.7"/><circle cx="373" cy="1034.82" r="5.2"/><circle cx="379.35" cy="1034.82" r="1.7"/><circle cx="392.05" cy="1034.82" r="3.7"/><circle cx="398.4" cy="1034.82" r="1.7"/><circle cx="404.75" cy="1034.82" r="6.2"/><circle cx="411.1" cy="1034.82" r="4.7"/><circle cx="417.45" cy="1034.82" r="7.7"/><circle cx="430.15" cy="1034.82" r="2.2"/><circle cx="449.2" cy="1034.82" r="4.2"/><circle cx="455.55" cy="1034.82" r="4.7"/><circle cx="506.35" cy="1034.82" r="5.7"/><circle cx="512.7" cy="1034.82" r="4.2"/><circle cx="525.4" cy="1034.82" r="3.2"/><circle cx="544.45" cy="1034.82" r="5.2"/><circle cx="328.55" cy="1057.64" r="7.2"/><circle cx="360.3" cy="1057.64" r="1.7"/><circle cx="366.65" cy="1057.64" r="4.7"/><circle cx="379.35" cy="1057.64" r="8.2"/><circle cx="385.7" cy="1057.64" r="4.7"/><circle cx="392.05" cy="1057.64" r="2.7"/><circle cx="398.4" cy="1057.64" r="7.7"/><circle cx="411.1" cy="1057.64" r="4.2"/><circle cx="423.8" cy="1057.64" r="2.2"/><circle cx="430.15" cy="1057.64" r="2.2"/><circle cx="436.5" cy="1057.64" r="5.2"/><circle cx="442.85" cy="1057.64" r="1.7"/><circle cx="449.2" cy="1057.64" r="6.2"/><circle cx="480.95" cy="1057.64" r="0.7"/><circle cx="487.3" cy="1057.64" r="5.2"/><circle cx="500" cy="1057.64" r="5.7"/><circle cx="506.35" cy="1057.64" r="7.2"/><circle cx="519.05" cy="1057.64" r="4.2"/><circle cx="347.6" cy="1080.46" r="4.7"/><circle cx="353.95" cy="1080.46" r="5.2"/><circle cx="360.3" cy="1080.46" r="2.7"/><circle cx="373" cy="1080.46" r="3.2"/><circle cx="385.7" cy="1080.46" r="4.7"/><circle cx="392.05" cy="1080.46" r="1.7"/><circle cx="398.4" cy="1080.46" r="1.2"/><circle cx="404.75" cy="1080.46" r="3.7"/><circle cx="417.45" cy="1080.46" r="2.7"/><circle cx="423.8" cy="1080.46" r="2.7"/><circle cx="430.15" cy="1080.46" r="2.2"/><circle cx="436.5" cy="1080.46" r="2.7"/><circle cx="442.85" cy="1080.46" r="3.2"/><circle cx="455.55" cy="1080.46" r="4.2"/><circle cx="461.9" cy="1080.46" r="4.2"/><circle cx="468.25" cy="1080.46" r="1.7"/><circle cx="474.6" cy="1080.46" r="3.2"/></g>
<g class="b"><circle cx="334.9" cy="875.08" r="4.2"/><circle cx="341.25" cy="875.08" r="9.2"/><circle cx="353.95" cy="875.08" r="3.2"/><circle cx="366.65" cy="875.08" r="6.2"/><circle cx="392.05" cy="875.08" r="2.2"/><circle cx="442.85" cy="875.08" r="5.2"/><circle cx="474.6" cy="875.08" r="0.7"/><circle cx="480.95" cy="875.08" r="3.7"/><circle cx="487.3" cy="875.08" r="3.7"/><circle cx="493.65" cy="875.08" r="4.7"/><circle cx="500" cy="875.08" r="3.7"/><circle cx="506.35" cy="875.08" r="4.7"/><circle cx="512.7" cy="875.08" r="1.7"/><circle cx="519.05" cy="875.08" r="1.7"/><circle cx="322.2" cy="897.9" r="7.7"/><circle cx="334.9" cy="897.9" r="7.7"/><circle cx="366.65" cy="897.9" r="7.7"/><circle cx="373" cy="897.9" r="1.7"/><circle cx="379.35" cy="897.9" r="0.4"/><circle cx="385.7" cy="897.9" r="0.7"/><circle cx="411.1" cy="897.9" r="6.7"/><circle cx="436.5" cy="897.9" r="4.2"/><circle cx="442.85" cy="897.9" r="10.7"/><circle cx="455.55" cy="897.9" r="1.7"/><circle cx="461.9" cy="897.9" r="2.2"/><circle cx="468.25" cy="897.9" r="2.2"/><circle cx="474.6" cy="897.9" r="3.2"/><circle cx="480.95" cy="897.9" r="6.7"/><circle cx="487.3" cy="897.9" r="2.2"/><circle cx="493.65" cy="897.9" r="3.7"/><circle cx="500" cy="897.9" r="6.2"/><circle cx="506.35" cy="897.9" r="4.7"/><circle cx="525.4" cy="897.9" r="2.2"/><circle cx="322.2" cy="920.72" r="4.2"/><circle cx="341.25" cy="920.72" r="5.2"/><circle cx="347.6" cy="920.72" r="7.2"/><circle cx="366.65" cy="920.72" r="6.2"/><circle cx="373" cy="920.72" r="5.2"/><circle cx="379.35" cy="920.72" r="2.2"/><circle cx="385.7" cy="920.72" r="9.7"/><circle cx="404.75" cy="920.72" r="2.2"/><circle cx="417.45" cy="920.72" r="7.7"/><circle cx="455.55" cy="920.72" r="5.2"/><circle cx="468.25" cy="920.72" r="0.4"/><circle cx="493.65" cy="920.72" r="7.2"/><circle cx="506.35" cy="920.72" r="2.7"/><circle cx="512.7" cy="920.72" r="3.2"/><circle cx="519.05" cy="920.72" r="2.7"/><circle cx="322.2" cy="943.54" r="3.7"/><circle cx="328.55" cy="943.54" r="6.2"/><circle cx="334.9" cy="943.54" r="5.2"/><circle cx="353.95" cy="943.54" r="6.7"/><circle cx="360.3" cy="943.54" r="6.2"/><circle cx="366.65" cy="943.54" r="8.8"/><circle cx="373" cy="943.54" r="5.2"/><circle cx="379.35" cy="943.54" r="2.7"/><circle cx="417.45" cy="943.54" r="4.2"/><circle cx="423.8" cy="943.54" r="5.2"/><circle cx="430.15" cy="943.54" r="2.2"/><circle cx="442.85" cy="943.54" r="0.7"/><circle cx="449.2" cy="943.54" r="4.7"/><circle cx="461.9" cy="943.54" r="1.7"/><circle cx="468.25" cy="943.54" r="4.2"/><circle cx="474.6" cy="943.54" r="5.2"/><circle cx="480.95" cy="943.54" r="3.7"/><circle cx="487.3" cy="943.54" r="5.7"/><circle cx="500" cy="943.54" r="5.7"/><circle cx="506.35" cy="943.54" r="4.7"/><circle cx="512.7" cy="943.54" r="2.7"/><circle cx="322.2" cy="966.36" r="7.7"/><circle cx="328.55" cy="966.36" r="3.2"/><circle cx="334.9" cy="966.36" r="5.2"/><circle cx="341.25" cy="966.36" r="0.4"/><circle cx="353.95" cy="966.36" r="0.7"/><circle cx="360.3" cy="966.36" r="7.2"/><circle cx="366.65" cy="966.36" r="6.7"/><circle cx="373" cy="966.36" r="10.2"/><circle cx="404.75" cy="966.36" r="6.2"/><circle cx="411.1" cy="966.36" r="7.2"/><circle cx="442.85" cy="966.36" r="2.7"/><circle cx="449.2" cy="966.36" r="4.7"/><circle cx="455.55" cy="966.36" r="3.2"/><circle cx="461.9" cy="966.36" r="0.4"/><circle cx="480.95" cy="966.36" r="5.2"/><circle cx="493.65" cy="966.36" r="5.7"/><circle cx="500" cy="966.36" r="1.7"/><circle cx="322.2" cy="989.18" r="6.7"/><circle cx="347.6" cy="989.18" r="3.2"/><circle cx="353.95" cy="989.18" r="8.2"/><circle cx="360.3" cy="989.18" r="6.7"/><circle cx="366.65" cy="989.18" r="11.7"/><circle cx="379.35" cy="989.18" r="3.7"/><circle cx="392.05" cy="989.18" r="3.7"/><circle cx="398.4" cy="989.18" r="3.2"/><circle cx="411.1" cy="989.18" r="3.7"/><circle cx="449.2" cy="989.18" r="5.2"/><circle cx="455.55" cy="989.18" r="1.2"/><circle cx="474.6" cy="989.18" r="2.2"/><circle cx="487.3" cy="989.18" r="5.2"/><circle cx="493.65" cy="989.18" r="3.2"/><circle cx="500" cy="989.18" r="4.7"/><circle cx="519.05" cy="989.18" r="1.2"/><circle cx="531.75" cy="989.18" r="0.2"/><circle cx="328.55" cy="1012" r="5.7"/><circle cx="334.9" cy="1012" r="2.2"/><circle cx="347.6" cy="1012" r="7.7"/><circle cx="353.95" cy="1012" r="8.7"/><circle cx="360.3" cy="1012" r="2.2"/><circle cx="373" cy="1012" r="6.7"/><circle cx="385.7" cy="1012" r="3.2"/><circle cx="392.05" cy="1012" r="7.2"/><circle cx="404.75" cy="1012" r="3.2"/><circle cx="430.15" cy="1012" r="2.7"/><circle cx="436.5" cy="1012" r="2.2"/><circle cx="442.85" cy="1012" r="2.2"/><circle cx="461.9" cy="1012" r="1.2"/><circle cx="468.25" cy="1012" r="1.2"/><circle cx="474.6" cy="1012" r="3.2"/><circle cx="480.95" cy="1012" r="5.2"/><circle cx="487.3" cy="1012" r="5.7"/><circle cx="493.65" cy="1012" r="4.7"/><circle cx="500" cy="1012" r="3.7"/><circle cx="544.45" cy="1012" r="2.7"/><circle cx="341.25" cy="1034.82" r="10.2"/><circle cx="347.6" cy="1034.82" r="5.2"/><circle cx="353.95" cy="1034.82" r="0.4"/><circle cx="360.3" cy="1034.82" r="3.2"/><circle cx="366.65" cy="1034.82" r="5.2"/><circle cx="385.7" cy="1034.82" r="6.2"/><circle cx="423.8" cy="1034.82" r="7.7"/><circle cx="436.5" cy="1034.82" r="2.7"/><circle cx="442.85" cy="1034.82" r="3.2"/><circle cx="461.9" cy="1034.82" r="3.7"/><circle cx="468.25" cy="1034.82" r="1.7"/><circle cx="474.6" cy="1034.82" r="5.2"/><circle cx="480.95" cy="1034.82" r="4.7"/><circle cx="487.3" cy="1034.82" r="0.7"/><circle cx="493.65" cy="1034.82" r="4.2"/><circle cx="500" cy="1034.82" r="1.7"/><circle cx="519.05" cy="1034.82" r="2.2"/><circle cx="531.75" cy="1034.82" r="6.2"/><circle cx="322.2" cy="1057.64" r="4.2"/><circle cx="334.9" cy="1057.64" r="3.7"/><circle cx="341.25" cy="1057.64" r="6.2"/><circle cx="347.6" cy="1057.64" r="9.2"/><circle cx="353.95" cy="1057.64" r="6.7"/><circle cx="373" cy="1057.64" r="6.2"/><circle cx="404.75" cy="1057.64" r="1.7"/><circle cx="417.45" cy="1057.64" r="5.7"/><circle cx="455.55" cy="1057.64" r="6.2"/><circle cx="461.9" cy="1057.64" r="3.7"/><circle cx="468.25" cy="1057.64" r="2.2"/><circle cx="474.6" cy="1057.64" r="6.2"/><circle cx="493.65" cy="1057.64" r="1.2"/><circle cx="512.7" cy="1057.64" r="5.2"/><circle cx="525.4" cy="1057.64" r="5.7"/><circle cx="531.75" cy="1057.64" r="2.2"/><circle cx="544.45" cy="1057.64" r="0.7"/><circle cx="322.2" cy="1080.46" r="7.7"/><circle cx="328.55" cy="1080.46" r="6.2"/><circle cx="334.9" cy="1080.46" r="4.7"/><circle cx="341.25" cy="1080.46" r="2.2"/><circle cx="366.65" cy="1080.46" r="0.7"/><circle cx="379.35" cy="1080.46" r="5.2"/><circle cx="411.1" cy="1080.46" r="0.4"/><circle cx="449.2" cy="1080.46" r="2.2"/><circle cx="480.95" cy="1080.46" r="3.2"/><circle cx="487.3" cy="1080.46" r="4.2"/><circle cx="493.65" cy="1080.46" r="1.2"/><circle cx="500" cy="1080.46" r="3.2"/><circle cx="506.35" cy="1080.46" r="5.7"/><circle cx="512.7" cy="1080.46" r="3.7"/><circle cx="519.05" cy="1080.46" r="4.7"/><circle cx="525.4" cy="1080.46" r="2.7"/><circle cx="531.75" cy="1080.46" r="1.7"/><circle cx="544.45" cy="1080.46" r="4.2"/></g>
<rect class="bx" x="68" y="771" width="520.75" height="345"/>
<text class="tt" x="337.3" y="791.7" text-anchor="middle" textLength="134" lengthAdjust="spacingAndGlyphs">FLT18:RusSweptArea</text>
<line class="ax" x1="68" y1="783.8" x2="68" y2="1103.28"/><line class="ax" x1="60" y1="1103.28" x2="68" y2="1103.28"/><text class="tl" transform="translate(49,1103.28) rotate(-90)" text-anchor="middle" textLength="6.8" lengthAdjust="spacingAndGlyphs">2</text>
<line class="ax" x1="60" y1="1057.64" x2="68" y2="1057.64"/><text class="tl" transform="translate(49,1057.64) rotate(-90)" text-anchor="middle" textLength="6.8" lengthAdjust="spacingAndGlyphs">4</text>
<line class="ax" x1="60" y1="1012" x2="68" y2="1012"/><text class="tl" transform="translate(49,1012) rotate(-90)" text-anchor="middle" textLength="6.8" lengthAdjust="spacingAndGlyphs">6</text>
<line class="ax" x1="60" y1="966.36" x2="68" y2="966.36"/><text class="tl" transform="translate(49,966.36) rotate(-90)" text-anchor="middle" textLength="6.8" lengthAdjust="spacingAndGlyphs">8</text>
<line class="ax" x1="60" y1="920.72" x2="68" y2="920.72"/><text class="tl" transform="translate(49,920.72) rotate(-90)" text-anchor="middle" textLength="14.5" lengthAdjust="spacingAndGlyphs">10</text>
<line class="ax" x1="60" y1="875.08" x2="68" y2="875.08"/><text class="tl" transform="translate(49,875.08) rotate(-90)" text-anchor="middle" textLength="14.5" lengthAdjust="spacingAndGlyphs">12</text>
<line class="ax" x1="60" y1="829.44" x2="68" y2="829.44"/><text class="tl" transform="translate(49,829.44) rotate(-90)" text-anchor="middle" textLength="14.5" lengthAdjust="spacingAndGlyphs">14</text>
<line class="ax" x1="60" y1="783.8" x2="68" y2="783.8"/><text class="tl" transform="translate(49,783.8) rotate(-90)" text-anchor="middle" textLength="14.5" lengthAdjust="spacingAndGlyphs">16</text>
<line class="ax" x1="182.5" y1="1116" x2="563.5" y2="1116"/><line class="ax" x1="182.5" y1="1116" x2="182.5" y2="1124.3"/><text class="tl" x="182.5" y="1145.3" text-anchor="middle" textLength="31.5" lengthAdjust="spacingAndGlyphs">1960</text>
<line class="ax" x1="309.5" y1="1116" x2="309.5" y2="1124.3"/><text class="tl" x="309.5" y="1145.3" text-anchor="middle" textLength="31.5" lengthAdjust="spacingAndGlyphs">1980</text>
<line class="ax" x1="436.5" y1="1116" x2="436.5" y2="1124.3"/><text class="tl" x="436.5" y="1145.3" text-anchor="middle" textLength="31.5" lengthAdjust="spacingAndGlyphs">2000</text>
<line class="ax" x1="563.5" y1="1116" x2="563.5" y2="1124.3"/><text class="tl" x="563.5" y="1145.3" text-anchor="middle" textLength="31.5" lengthAdjust="spacingAndGlyphs">2020</text>
</g>
<text transform="translate(21.5,592.5) rotate(-90)" text-anchor="middle" font-size="19.2" textLength="38.3" lengthAdjust="spacingAndGlyphs">Age</text>
<text x="592.8" y="1178.8" text-anchor="middle" font-size="19.5" textLength="40.5" lengthAdjust="spacingAndGlyphs">Year</text>
<text x="120" y="1171.15" text-anchor="middle" font-size="20.8" textLength="19.3" lengthAdjust="spacingAndGlyphs">-6</text><text x="171.5" y="1171.15" text-anchor="middle" font-size="20.8" textLength="19.3" lengthAdjust="spacingAndGlyphs">-4</text><text x="223" y="1171.15" text-anchor="middle" font-size="20.8" textLength="19.3" lengthAdjust="spacingAndGlyphs">-2</text><text x="274.5" y="1171.15" text-anchor="middle" font-size="20.8" textLength="11.8" lengthAdjust="spacingAndGlyphs">0</text><text x="326" y="1171.15" text-anchor="middle" font-size="20.8" textLength="11.8" lengthAdjust="spacingAndGlyphs">2</text><text x="377.5" y="1171.15" text-anchor="middle" font-size="20.8" textLength="11.8" lengthAdjust="spacingAndGlyphs">4</text><text x="429" y="1171.15" text-anchor="middle" font-size="20.8" textLength="11.8" lengthAdjust="spacingAndGlyphs">6</text><text x="480.5" y="1171.15" text-anchor="middle" font-size="20.8" textLength="11.8" lengthAdjust="spacingAndGlyphs">8</text><circle class="r" cx="120" cy="1163.75" r="19.47"/><circle class="r" cx="171.5" cy="1163.75" r="15.9"/><circle class="r" cx="223" cy="1163.75" r="11.24"/><circle class="b" cx="326" cy="1163.75" r="11.24"/><circle class="b" cx="377.5" cy="1163.75" r="15.9"/><circle class="b" cx="429" cy="1163.75" r="19.47"/><circle class="b" cx="480.5" cy="1163.75" r="22.49"/>
</svg>
</body></html>
